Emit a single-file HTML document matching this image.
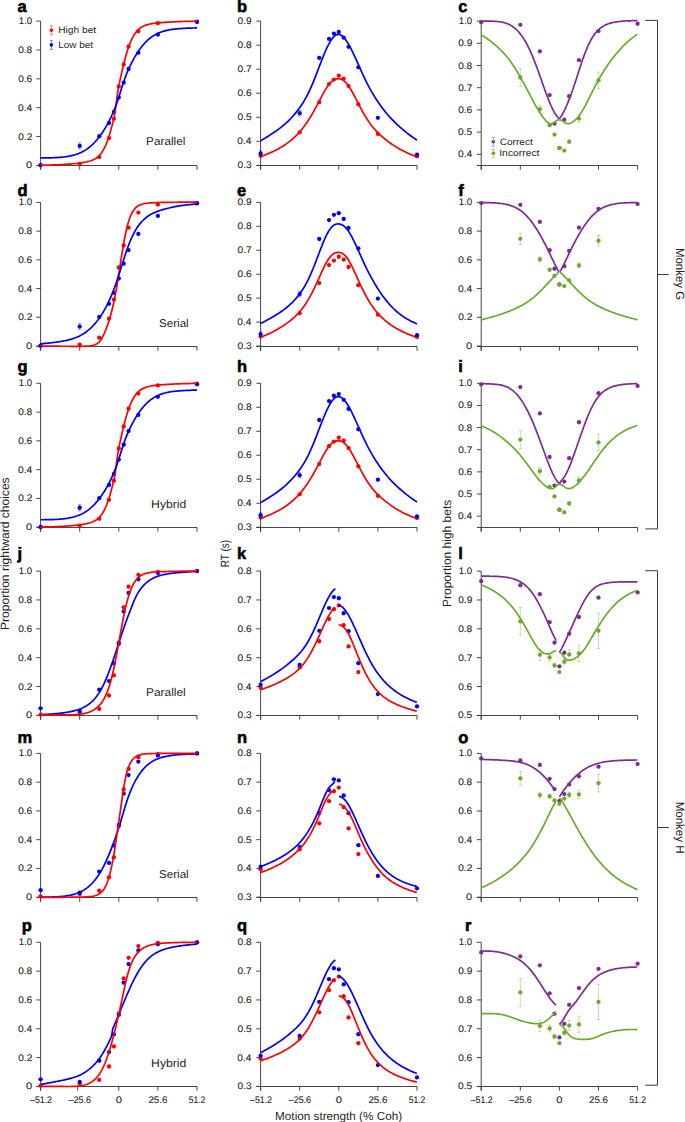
<!DOCTYPE html>
<html><head><meta charset="utf-8"><title>Figure</title>
<style>html,body{margin:0;padding:0;background:#fff;width:685px;height:1122px;overflow:hidden}svg{display:block;font-family:"Liberation Sans",sans-serif}</style>
</head><body>
<svg width="685" height="1122" viewBox="0 0 685 1122" text-rendering="geometricPrecision" fill="#231f20">
<rect width="685" height="1122" fill="#fff"/>
<style>.t{stroke:#231f20;stroke-width:0.1px}</style>
<path d="M40.6 21.1 V169.7" stroke="#3c3c3c" stroke-width="0.95" fill="none"/>
<path d="M36.3 165.5 H197" stroke="#3c3c3c" stroke-width="0.95" fill="none"/>
<path d="M36.3 165.4H40.6M36.3 136.54H40.6M36.3 107.68H40.6M36.3 78.82H40.6M36.3 49.96H40.6M36.3 21.1H40.6M40.6 165.5V169.7M79.7 165.5V169.7M118.8 165.5V169.7M157.9 165.5V169.7M197 165.5V169.7" stroke="#3c3c3c" stroke-width="0.95" fill="none"/>
<text x="26.13" y="168.4" font-size="9.6" text-anchor="start" font-weight="normal" textLength="6.14" lengthAdjust="spacingAndGlyphs" class="t">0</text>
<text x="18.21" y="139.54" font-size="9.6" text-anchor="start" font-weight="normal" textLength="14.15" lengthAdjust="spacingAndGlyphs" class="t">0.2</text>
<text x="17.99" y="110.68" font-size="9.6" text-anchor="start" font-weight="normal" textLength="14.15" lengthAdjust="spacingAndGlyphs" class="t">0.4</text>
<text x="18.15" y="81.82" font-size="9.6" text-anchor="start" font-weight="normal" textLength="14.15" lengthAdjust="spacingAndGlyphs" class="t">0.6</text>
<text x="18.15" y="52.96" font-size="9.6" text-anchor="start" font-weight="normal" textLength="14.15" lengthAdjust="spacingAndGlyphs" class="t">0.8</text>
<text x="18.87" y="24.1" font-size="9.6" text-anchor="start" font-weight="normal" textLength="13.35" lengthAdjust="spacingAndGlyphs" class="t">1.0</text>
<path d="M260.6 21.1 V169.7" stroke="#3c3c3c" stroke-width="0.95" fill="none"/>
<path d="M256.3 165.5 H417" stroke="#3c3c3c" stroke-width="0.95" fill="none"/>
<path d="M256.3 165.4H260.6M256.3 141.35H260.6M256.3 117.3H260.6M256.3 93.25H260.6M256.3 69.2H260.6M256.3 45.15H260.6M256.3 21.1H260.6M260.6 165.5V169.7M299.7 165.5V169.7M338.8 165.5V169.7M377.9 165.5V169.7M417 165.5V169.7" stroke="#3c3c3c" stroke-width="0.95" fill="none"/>
<text x="237.55" y="168.4" font-size="9.6" text-anchor="start" font-weight="normal" textLength="14.15" lengthAdjust="spacingAndGlyphs" class="t">0.3</text>
<text x="237.39" y="144.35" font-size="9.6" text-anchor="start" font-weight="normal" textLength="14.15" lengthAdjust="spacingAndGlyphs" class="t">0.4</text>
<text x="237.53" y="120.3" font-size="9.6" text-anchor="start" font-weight="normal" textLength="14.15" lengthAdjust="spacingAndGlyphs" class="t">0.5</text>
<text x="237.55" y="96.25" font-size="9.6" text-anchor="start" font-weight="normal" textLength="14.15" lengthAdjust="spacingAndGlyphs" class="t">0.6</text>
<text x="237.61" y="72.2" font-size="9.6" text-anchor="start" font-weight="normal" textLength="14.15" lengthAdjust="spacingAndGlyphs" class="t">0.7</text>
<text x="237.55" y="48.15" font-size="9.6" text-anchor="start" font-weight="normal" textLength="14.15" lengthAdjust="spacingAndGlyphs" class="t">0.8</text>
<text x="237.59" y="24.1" font-size="9.6" text-anchor="start" font-weight="normal" textLength="14.15" lengthAdjust="spacingAndGlyphs" class="t">0.9</text>
<path d="M481.2 21.1 V169.7" stroke="#3c3c3c" stroke-width="0.95" fill="none"/>
<path d="M476.9 165.5 H637.6" stroke="#3c3c3c" stroke-width="0.95" fill="none"/>
<path d="M476.9 154.3H481.2M476.9 132.1H481.2M476.9 109.9H481.2M476.9 87.7H481.2M476.9 65.5H481.2M476.9 43.3H481.2M476.9 21.1H481.2M481.2 165.5V169.7M520.3 165.5V169.7M559.4 165.5V169.7M598.5 165.5V169.7M637.6 165.5V169.7" stroke="#3c3c3c" stroke-width="0.95" fill="none"/>
<text x="457.99" y="157.3" font-size="9.6" text-anchor="start" font-weight="normal" textLength="14.15" lengthAdjust="spacingAndGlyphs" class="t">0.4</text>
<text x="458.13" y="135.1" font-size="9.6" text-anchor="start" font-weight="normal" textLength="14.15" lengthAdjust="spacingAndGlyphs" class="t">0.5</text>
<text x="458.15" y="112.9" font-size="9.6" text-anchor="start" font-weight="normal" textLength="14.15" lengthAdjust="spacingAndGlyphs" class="t">0.6</text>
<text x="458.21" y="90.7" font-size="9.6" text-anchor="start" font-weight="normal" textLength="14.15" lengthAdjust="spacingAndGlyphs" class="t">0.7</text>
<text x="458.15" y="68.5" font-size="9.6" text-anchor="start" font-weight="normal" textLength="14.15" lengthAdjust="spacingAndGlyphs" class="t">0.8</text>
<text x="458.19" y="46.3" font-size="9.6" text-anchor="start" font-weight="normal" textLength="14.15" lengthAdjust="spacingAndGlyphs" class="t">0.9</text>
<text x="458.87" y="24.1" font-size="9.6" text-anchor="start" font-weight="normal" textLength="13.35" lengthAdjust="spacingAndGlyphs" class="t">1.0</text>
<path d="M40.6 202.4 V350.7" stroke="#3c3c3c" stroke-width="0.95" fill="none"/>
<path d="M36.3 346.5 H197" stroke="#3c3c3c" stroke-width="0.95" fill="none"/>
<path d="M36.3 346H40.6M36.3 317.28H40.6M36.3 288.56H40.6M36.3 259.84H40.6M36.3 231.12H40.6M36.3 202.4H40.6M40.6 346.5V350.7M79.7 346.5V350.7M118.8 346.5V350.7M157.9 346.5V350.7M197 346.5V350.7" stroke="#3c3c3c" stroke-width="0.95" fill="none"/>
<text x="26.13" y="349" font-size="9.6" text-anchor="start" font-weight="normal" textLength="6.14" lengthAdjust="spacingAndGlyphs" class="t">0</text>
<text x="18.21" y="320.28" font-size="9.6" text-anchor="start" font-weight="normal" textLength="14.15" lengthAdjust="spacingAndGlyphs" class="t">0.2</text>
<text x="17.99" y="291.56" font-size="9.6" text-anchor="start" font-weight="normal" textLength="14.15" lengthAdjust="spacingAndGlyphs" class="t">0.4</text>
<text x="18.15" y="262.84" font-size="9.6" text-anchor="start" font-weight="normal" textLength="14.15" lengthAdjust="spacingAndGlyphs" class="t">0.6</text>
<text x="18.15" y="234.12" font-size="9.6" text-anchor="start" font-weight="normal" textLength="14.15" lengthAdjust="spacingAndGlyphs" class="t">0.8</text>
<text x="18.87" y="205.4" font-size="9.6" text-anchor="start" font-weight="normal" textLength="13.35" lengthAdjust="spacingAndGlyphs" class="t">1.0</text>
<path d="M260.6 202.4 V350.7" stroke="#3c3c3c" stroke-width="0.95" fill="none"/>
<path d="M256.3 346.5 H417" stroke="#3c3c3c" stroke-width="0.95" fill="none"/>
<path d="M256.3 346H260.6M256.3 322.07H260.6M256.3 298.13H260.6M256.3 274.2H260.6M256.3 250.27H260.6M256.3 226.33H260.6M256.3 202.4H260.6M260.6 346.5V350.7M299.7 346.5V350.7M338.8 346.5V350.7M377.9 346.5V350.7M417 346.5V350.7" stroke="#3c3c3c" stroke-width="0.95" fill="none"/>
<text x="237.55" y="349" font-size="9.6" text-anchor="start" font-weight="normal" textLength="14.15" lengthAdjust="spacingAndGlyphs" class="t">0.3</text>
<text x="237.39" y="325.07" font-size="9.6" text-anchor="start" font-weight="normal" textLength="14.15" lengthAdjust="spacingAndGlyphs" class="t">0.4</text>
<text x="237.53" y="301.13" font-size="9.6" text-anchor="start" font-weight="normal" textLength="14.15" lengthAdjust="spacingAndGlyphs" class="t">0.5</text>
<text x="237.55" y="277.2" font-size="9.6" text-anchor="start" font-weight="normal" textLength="14.15" lengthAdjust="spacingAndGlyphs" class="t">0.6</text>
<text x="237.61" y="253.27" font-size="9.6" text-anchor="start" font-weight="normal" textLength="14.15" lengthAdjust="spacingAndGlyphs" class="t">0.7</text>
<text x="237.55" y="229.33" font-size="9.6" text-anchor="start" font-weight="normal" textLength="14.15" lengthAdjust="spacingAndGlyphs" class="t">0.8</text>
<text x="237.59" y="205.4" font-size="9.6" text-anchor="start" font-weight="normal" textLength="14.15" lengthAdjust="spacingAndGlyphs" class="t">0.9</text>
<path d="M481.2 202.4 V350.7" stroke="#3c3c3c" stroke-width="0.95" fill="none"/>
<path d="M476.9 346.5 H637.6" stroke="#3c3c3c" stroke-width="0.95" fill="none"/>
<path d="M476.9 346H481.2M476.9 317.28H481.2M476.9 288.56H481.2M476.9 259.84H481.2M476.9 231.12H481.2M476.9 202.4H481.2M481.2 346.5V350.7M520.3 346.5V350.7M559.4 346.5V350.7M598.5 346.5V350.7M637.6 346.5V350.7" stroke="#3c3c3c" stroke-width="0.95" fill="none"/>
<text x="466.13" y="349" font-size="9.6" text-anchor="start" font-weight="normal" textLength="6.14" lengthAdjust="spacingAndGlyphs" class="t">0</text>
<text x="458.21" y="320.28" font-size="9.6" text-anchor="start" font-weight="normal" textLength="14.15" lengthAdjust="spacingAndGlyphs" class="t">0.2</text>
<text x="457.99" y="291.56" font-size="9.6" text-anchor="start" font-weight="normal" textLength="14.15" lengthAdjust="spacingAndGlyphs" class="t">0.4</text>
<text x="458.15" y="262.84" font-size="9.6" text-anchor="start" font-weight="normal" textLength="14.15" lengthAdjust="spacingAndGlyphs" class="t">0.6</text>
<text x="458.15" y="234.12" font-size="9.6" text-anchor="start" font-weight="normal" textLength="14.15" lengthAdjust="spacingAndGlyphs" class="t">0.8</text>
<text x="458.87" y="205.4" font-size="9.6" text-anchor="start" font-weight="normal" textLength="13.35" lengthAdjust="spacingAndGlyphs" class="t">1.0</text>
<path d="M40.6 383.3 V531.7" stroke="#3c3c3c" stroke-width="0.95" fill="none"/>
<path d="M36.3 527.5 H197" stroke="#3c3c3c" stroke-width="0.95" fill="none"/>
<path d="M36.3 527.2H40.6M36.3 498.42H40.6M36.3 469.64H40.6M36.3 440.86H40.6M36.3 412.08H40.6M36.3 383.3H40.6M40.6 527.5V531.7M79.7 527.5V531.7M118.8 527.5V531.7M157.9 527.5V531.7M197 527.5V531.7" stroke="#3c3c3c" stroke-width="0.95" fill="none"/>
<text x="26.13" y="530.2" font-size="9.6" text-anchor="start" font-weight="normal" textLength="6.14" lengthAdjust="spacingAndGlyphs" class="t">0</text>
<text x="18.21" y="501.42" font-size="9.6" text-anchor="start" font-weight="normal" textLength="14.15" lengthAdjust="spacingAndGlyphs" class="t">0.2</text>
<text x="17.99" y="472.64" font-size="9.6" text-anchor="start" font-weight="normal" textLength="14.15" lengthAdjust="spacingAndGlyphs" class="t">0.4</text>
<text x="18.15" y="443.86" font-size="9.6" text-anchor="start" font-weight="normal" textLength="14.15" lengthAdjust="spacingAndGlyphs" class="t">0.6</text>
<text x="18.15" y="415.08" font-size="9.6" text-anchor="start" font-weight="normal" textLength="14.15" lengthAdjust="spacingAndGlyphs" class="t">0.8</text>
<text x="18.87" y="386.3" font-size="9.6" text-anchor="start" font-weight="normal" textLength="13.35" lengthAdjust="spacingAndGlyphs" class="t">1.0</text>
<path d="M260.6 383.3 V531.7" stroke="#3c3c3c" stroke-width="0.95" fill="none"/>
<path d="M256.3 527.5 H417" stroke="#3c3c3c" stroke-width="0.95" fill="none"/>
<path d="M256.3 527.2H260.6M256.3 503.22H260.6M256.3 479.23H260.6M256.3 455.25H260.6M256.3 431.27H260.6M256.3 407.28H260.6M256.3 383.3H260.6M260.6 527.5V531.7M299.7 527.5V531.7M338.8 527.5V531.7M377.9 527.5V531.7M417 527.5V531.7" stroke="#3c3c3c" stroke-width="0.95" fill="none"/>
<text x="237.55" y="530.2" font-size="9.6" text-anchor="start" font-weight="normal" textLength="14.15" lengthAdjust="spacingAndGlyphs" class="t">0.3</text>
<text x="237.39" y="506.22" font-size="9.6" text-anchor="start" font-weight="normal" textLength="14.15" lengthAdjust="spacingAndGlyphs" class="t">0.4</text>
<text x="237.53" y="482.23" font-size="9.6" text-anchor="start" font-weight="normal" textLength="14.15" lengthAdjust="spacingAndGlyphs" class="t">0.5</text>
<text x="237.55" y="458.25" font-size="9.6" text-anchor="start" font-weight="normal" textLength="14.15" lengthAdjust="spacingAndGlyphs" class="t">0.6</text>
<text x="237.61" y="434.27" font-size="9.6" text-anchor="start" font-weight="normal" textLength="14.15" lengthAdjust="spacingAndGlyphs" class="t">0.7</text>
<text x="237.55" y="410.28" font-size="9.6" text-anchor="start" font-weight="normal" textLength="14.15" lengthAdjust="spacingAndGlyphs" class="t">0.8</text>
<text x="237.59" y="386.3" font-size="9.6" text-anchor="start" font-weight="normal" textLength="14.15" lengthAdjust="spacingAndGlyphs" class="t">0.9</text>
<path d="M481.2 383.3 V531.7" stroke="#3c3c3c" stroke-width="0.95" fill="none"/>
<path d="M476.9 527.5 H637.6" stroke="#3c3c3c" stroke-width="0.95" fill="none"/>
<path d="M476.9 516.13H481.2M476.9 493.99H481.2M476.9 471.85H481.2M476.9 449.72H481.2M476.9 427.58H481.2M476.9 405.44H481.2M476.9 383.3H481.2M481.2 527.5V531.7M520.3 527.5V531.7M559.4 527.5V531.7M598.5 527.5V531.7M637.6 527.5V531.7" stroke="#3c3c3c" stroke-width="0.95" fill="none"/>
<text x="457.99" y="519.13" font-size="9.6" text-anchor="start" font-weight="normal" textLength="14.15" lengthAdjust="spacingAndGlyphs" class="t">0.4</text>
<text x="458.13" y="496.99" font-size="9.6" text-anchor="start" font-weight="normal" textLength="14.15" lengthAdjust="spacingAndGlyphs" class="t">0.5</text>
<text x="458.15" y="474.85" font-size="9.6" text-anchor="start" font-weight="normal" textLength="14.15" lengthAdjust="spacingAndGlyphs" class="t">0.6</text>
<text x="458.21" y="452.72" font-size="9.6" text-anchor="start" font-weight="normal" textLength="14.15" lengthAdjust="spacingAndGlyphs" class="t">0.7</text>
<text x="458.15" y="430.58" font-size="9.6" text-anchor="start" font-weight="normal" textLength="14.15" lengthAdjust="spacingAndGlyphs" class="t">0.8</text>
<text x="458.19" y="408.44" font-size="9.6" text-anchor="start" font-weight="normal" textLength="14.15" lengthAdjust="spacingAndGlyphs" class="t">0.9</text>
<text x="458.87" y="386.3" font-size="9.6" text-anchor="start" font-weight="normal" textLength="13.35" lengthAdjust="spacingAndGlyphs" class="t">1.0</text>
<path d="M40.6 571.1 V719.7" stroke="#3c3c3c" stroke-width="0.95" fill="none"/>
<path d="M36.3 715.5 H197" stroke="#3c3c3c" stroke-width="0.95" fill="none"/>
<path d="M36.3 715.4H40.6M36.3 686.54H40.6M36.3 657.68H40.6M36.3 628.82H40.6M36.3 599.96H40.6M36.3 571.1H40.6M40.6 715.5V719.7M79.7 715.5V719.7M118.8 715.5V719.7M157.9 715.5V719.7M197 715.5V719.7" stroke="#3c3c3c" stroke-width="0.95" fill="none"/>
<text x="26.13" y="718.4" font-size="9.6" text-anchor="start" font-weight="normal" textLength="6.14" lengthAdjust="spacingAndGlyphs" class="t">0</text>
<text x="18.21" y="689.54" font-size="9.6" text-anchor="start" font-weight="normal" textLength="14.15" lengthAdjust="spacingAndGlyphs" class="t">0.2</text>
<text x="17.99" y="660.68" font-size="9.6" text-anchor="start" font-weight="normal" textLength="14.15" lengthAdjust="spacingAndGlyphs" class="t">0.4</text>
<text x="18.15" y="631.82" font-size="9.6" text-anchor="start" font-weight="normal" textLength="14.15" lengthAdjust="spacingAndGlyphs" class="t">0.6</text>
<text x="18.15" y="602.96" font-size="9.6" text-anchor="start" font-weight="normal" textLength="14.15" lengthAdjust="spacingAndGlyphs" class="t">0.8</text>
<text x="18.87" y="574.1" font-size="9.6" text-anchor="start" font-weight="normal" textLength="13.35" lengthAdjust="spacingAndGlyphs" class="t">1.0</text>
<path d="M260.6 571.1 V719.7" stroke="#3c3c3c" stroke-width="0.95" fill="none"/>
<path d="M256.3 715.5 H417" stroke="#3c3c3c" stroke-width="0.95" fill="none"/>
<path d="M256.3 715.4H260.6M256.3 686.54H260.6M256.3 657.68H260.6M256.3 628.82H260.6M256.3 599.96H260.6M256.3 571.1H260.6M260.6 715.5V719.7M299.7 715.5V719.7M338.8 715.5V719.7M377.9 715.5V719.7M417 715.5V719.7" stroke="#3c3c3c" stroke-width="0.95" fill="none"/>
<text x="237.55" y="718.4" font-size="9.6" text-anchor="start" font-weight="normal" textLength="14.15" lengthAdjust="spacingAndGlyphs" class="t">0.3</text>
<text x="237.39" y="689.54" font-size="9.6" text-anchor="start" font-weight="normal" textLength="14.15" lengthAdjust="spacingAndGlyphs" class="t">0.4</text>
<text x="237.53" y="660.68" font-size="9.6" text-anchor="start" font-weight="normal" textLength="14.15" lengthAdjust="spacingAndGlyphs" class="t">0.5</text>
<text x="237.55" y="631.82" font-size="9.6" text-anchor="start" font-weight="normal" textLength="14.15" lengthAdjust="spacingAndGlyphs" class="t">0.6</text>
<text x="237.61" y="602.96" font-size="9.6" text-anchor="start" font-weight="normal" textLength="14.15" lengthAdjust="spacingAndGlyphs" class="t">0.7</text>
<text x="237.55" y="574.1" font-size="9.6" text-anchor="start" font-weight="normal" textLength="14.15" lengthAdjust="spacingAndGlyphs" class="t">0.8</text>
<path d="M481.2 571.1 V719.7" stroke="#3c3c3c" stroke-width="0.95" fill="none"/>
<path d="M476.9 715.5 H637.6" stroke="#3c3c3c" stroke-width="0.95" fill="none"/>
<path d="M476.9 715.4H481.2M476.9 686.54H481.2M476.9 657.68H481.2M476.9 628.82H481.2M476.9 599.96H481.2M476.9 571.1H481.2M481.2 715.5V719.7M520.3 715.5V719.7M559.4 715.5V719.7M598.5 715.5V719.7M637.6 715.5V719.7" stroke="#3c3c3c" stroke-width="0.95" fill="none"/>
<text x="458.13" y="718.4" font-size="9.6" text-anchor="start" font-weight="normal" textLength="14.15" lengthAdjust="spacingAndGlyphs" class="t">0.5</text>
<text x="458.15" y="689.54" font-size="9.6" text-anchor="start" font-weight="normal" textLength="14.15" lengthAdjust="spacingAndGlyphs" class="t">0.6</text>
<text x="458.21" y="660.68" font-size="9.6" text-anchor="start" font-weight="normal" textLength="14.15" lengthAdjust="spacingAndGlyphs" class="t">0.7</text>
<text x="458.15" y="631.82" font-size="9.6" text-anchor="start" font-weight="normal" textLength="14.15" lengthAdjust="spacingAndGlyphs" class="t">0.8</text>
<text x="458.19" y="602.96" font-size="9.6" text-anchor="start" font-weight="normal" textLength="14.15" lengthAdjust="spacingAndGlyphs" class="t">0.9</text>
<text x="458.87" y="574.1" font-size="9.6" text-anchor="start" font-weight="normal" textLength="13.35" lengthAdjust="spacingAndGlyphs" class="t">1.0</text>
<path d="M40.6 753.4 V901.7" stroke="#3c3c3c" stroke-width="0.95" fill="none"/>
<path d="M36.3 897.5 H197" stroke="#3c3c3c" stroke-width="0.95" fill="none"/>
<path d="M36.3 897.2H40.6M36.3 868.44H40.6M36.3 839.68H40.6M36.3 810.92H40.6M36.3 782.16H40.6M36.3 753.4H40.6M40.6 897.5V901.7M79.7 897.5V901.7M118.8 897.5V901.7M157.9 897.5V901.7M197 897.5V901.7" stroke="#3c3c3c" stroke-width="0.95" fill="none"/>
<text x="26.13" y="900.2" font-size="9.6" text-anchor="start" font-weight="normal" textLength="6.14" lengthAdjust="spacingAndGlyphs" class="t">0</text>
<text x="18.21" y="871.44" font-size="9.6" text-anchor="start" font-weight="normal" textLength="14.15" lengthAdjust="spacingAndGlyphs" class="t">0.2</text>
<text x="17.99" y="842.68" font-size="9.6" text-anchor="start" font-weight="normal" textLength="14.15" lengthAdjust="spacingAndGlyphs" class="t">0.4</text>
<text x="18.15" y="813.92" font-size="9.6" text-anchor="start" font-weight="normal" textLength="14.15" lengthAdjust="spacingAndGlyphs" class="t">0.6</text>
<text x="18.15" y="785.16" font-size="9.6" text-anchor="start" font-weight="normal" textLength="14.15" lengthAdjust="spacingAndGlyphs" class="t">0.8</text>
<text x="18.87" y="756.4" font-size="9.6" text-anchor="start" font-weight="normal" textLength="13.35" lengthAdjust="spacingAndGlyphs" class="t">1.0</text>
<path d="M260.6 753.4 V901.7" stroke="#3c3c3c" stroke-width="0.95" fill="none"/>
<path d="M256.3 897.5 H417" stroke="#3c3c3c" stroke-width="0.95" fill="none"/>
<path d="M256.3 897.2H260.6M256.3 868.44H260.6M256.3 839.68H260.6M256.3 810.92H260.6M256.3 782.16H260.6M256.3 753.4H260.6M260.6 897.5V901.7M299.7 897.5V901.7M338.8 897.5V901.7M377.9 897.5V901.7M417 897.5V901.7" stroke="#3c3c3c" stroke-width="0.95" fill="none"/>
<text x="237.55" y="900.2" font-size="9.6" text-anchor="start" font-weight="normal" textLength="14.15" lengthAdjust="spacingAndGlyphs" class="t">0.3</text>
<text x="237.39" y="871.44" font-size="9.6" text-anchor="start" font-weight="normal" textLength="14.15" lengthAdjust="spacingAndGlyphs" class="t">0.4</text>
<text x="237.53" y="842.68" font-size="9.6" text-anchor="start" font-weight="normal" textLength="14.15" lengthAdjust="spacingAndGlyphs" class="t">0.5</text>
<text x="237.55" y="813.92" font-size="9.6" text-anchor="start" font-weight="normal" textLength="14.15" lengthAdjust="spacingAndGlyphs" class="t">0.6</text>
<text x="237.61" y="785.16" font-size="9.6" text-anchor="start" font-weight="normal" textLength="14.15" lengthAdjust="spacingAndGlyphs" class="t">0.7</text>
<text x="237.55" y="756.4" font-size="9.6" text-anchor="start" font-weight="normal" textLength="14.15" lengthAdjust="spacingAndGlyphs" class="t">0.8</text>
<path d="M481.2 753.4 V901.7" stroke="#3c3c3c" stroke-width="0.95" fill="none"/>
<path d="M476.9 897.5 H637.6" stroke="#3c3c3c" stroke-width="0.95" fill="none"/>
<path d="M476.9 897.2H481.2M476.9 868.44H481.2M476.9 839.68H481.2M476.9 810.92H481.2M476.9 782.16H481.2M476.9 753.4H481.2M481.2 897.5V901.7M520.3 897.5V901.7M559.4 897.5V901.7M598.5 897.5V901.7M637.6 897.5V901.7" stroke="#3c3c3c" stroke-width="0.95" fill="none"/>
<text x="466.13" y="900.2" font-size="9.6" text-anchor="start" font-weight="normal" textLength="6.14" lengthAdjust="spacingAndGlyphs" class="t">0</text>
<text x="458.21" y="871.44" font-size="9.6" text-anchor="start" font-weight="normal" textLength="14.15" lengthAdjust="spacingAndGlyphs" class="t">0.2</text>
<text x="457.99" y="842.68" font-size="9.6" text-anchor="start" font-weight="normal" textLength="14.15" lengthAdjust="spacingAndGlyphs" class="t">0.4</text>
<text x="458.15" y="813.92" font-size="9.6" text-anchor="start" font-weight="normal" textLength="14.15" lengthAdjust="spacingAndGlyphs" class="t">0.6</text>
<text x="458.15" y="785.16" font-size="9.6" text-anchor="start" font-weight="normal" textLength="14.15" lengthAdjust="spacingAndGlyphs" class="t">0.8</text>
<text x="458.87" y="756.4" font-size="9.6" text-anchor="start" font-weight="normal" textLength="13.35" lengthAdjust="spacingAndGlyphs" class="t">1.0</text>
<path d="M40.6 942.3 V1090.7" stroke="#3c3c3c" stroke-width="0.95" fill="none"/>
<path d="M36.3 1086.5 H197" stroke="#3c3c3c" stroke-width="0.95" fill="none"/>
<path d="M36.3 1086.4H40.6M36.3 1057.58H40.6M36.3 1028.76H40.6M36.3 999.94H40.6M36.3 971.12H40.6M36.3 942.3H40.6M40.6 1086.5V1090.7M77.7 1086.5V1090.7M118.8 1086.5V1090.7M157.9 1086.5V1090.7M197 1086.5V1090.7" stroke="#3c3c3c" stroke-width="0.95" fill="none"/>
<text x="26.13" y="1089.4" font-size="9.6" text-anchor="start" font-weight="normal" textLength="6.14" lengthAdjust="spacingAndGlyphs" class="t">0</text>
<text x="18.21" y="1060.58" font-size="9.6" text-anchor="start" font-weight="normal" textLength="14.15" lengthAdjust="spacingAndGlyphs" class="t">0.2</text>
<text x="17.99" y="1031.76" font-size="9.6" text-anchor="start" font-weight="normal" textLength="14.15" lengthAdjust="spacingAndGlyphs" class="t">0.4</text>
<text x="18.15" y="1002.94" font-size="9.6" text-anchor="start" font-weight="normal" textLength="14.15" lengthAdjust="spacingAndGlyphs" class="t">0.6</text>
<text x="18.15" y="974.12" font-size="9.6" text-anchor="start" font-weight="normal" textLength="14.15" lengthAdjust="spacingAndGlyphs" class="t">0.8</text>
<text x="18.87" y="945.3" font-size="9.6" text-anchor="start" font-weight="normal" textLength="13.35" lengthAdjust="spacingAndGlyphs" class="t">1.0</text>
<text x="30.05" y="1102.9" font-size="9.6" text-anchor="start" font-weight="normal" textLength="21.94" lengthAdjust="spacingAndGlyphs" class="t">–51.2</text>
<text x="68.6" y="1102.9" font-size="9.6" text-anchor="start" font-weight="normal" textLength="22.4" lengthAdjust="spacingAndGlyphs" class="t">–25.6</text>
<text x="115.67" y="1102.9" font-size="9.6" text-anchor="start" font-weight="normal" textLength="6.26" lengthAdjust="spacingAndGlyphs" class="t">0</text>
<text x="148.41" y="1102.9" font-size="9.6" text-anchor="start" font-weight="normal" textLength="18.92" lengthAdjust="spacingAndGlyphs" class="t">25.6</text>
<text x="188.71" y="1102.9" font-size="9.6" text-anchor="start" font-weight="normal" textLength="16.67" lengthAdjust="spacingAndGlyphs" class="t">51.2</text>
<path d="M260.6 942.3 V1090.7" stroke="#3c3c3c" stroke-width="0.95" fill="none"/>
<path d="M256.3 1086.5 H417" stroke="#3c3c3c" stroke-width="0.95" fill="none"/>
<path d="M256.3 1086.4H260.6M256.3 1057.58H260.6M256.3 1028.76H260.6M256.3 999.94H260.6M256.3 971.12H260.6M256.3 942.3H260.6M260.6 1086.5V1090.7M299.7 1086.5V1090.7M338.8 1086.5V1090.7M377.9 1086.5V1090.7M417 1086.5V1090.7" stroke="#3c3c3c" stroke-width="0.95" fill="none"/>
<text x="237.55" y="1089.4" font-size="9.6" text-anchor="start" font-weight="normal" textLength="14.15" lengthAdjust="spacingAndGlyphs" class="t">0.3</text>
<text x="237.39" y="1060.58" font-size="9.6" text-anchor="start" font-weight="normal" textLength="14.15" lengthAdjust="spacingAndGlyphs" class="t">0.4</text>
<text x="237.53" y="1031.76" font-size="9.6" text-anchor="start" font-weight="normal" textLength="14.15" lengthAdjust="spacingAndGlyphs" class="t">0.5</text>
<text x="237.55" y="1002.94" font-size="9.6" text-anchor="start" font-weight="normal" textLength="14.15" lengthAdjust="spacingAndGlyphs" class="t">0.6</text>
<text x="237.61" y="974.12" font-size="9.6" text-anchor="start" font-weight="normal" textLength="14.15" lengthAdjust="spacingAndGlyphs" class="t">0.7</text>
<text x="237.55" y="945.3" font-size="9.6" text-anchor="start" font-weight="normal" textLength="14.15" lengthAdjust="spacingAndGlyphs" class="t">0.8</text>
<text x="250.05" y="1102.9" font-size="9.6" text-anchor="start" font-weight="normal" textLength="21.94" lengthAdjust="spacingAndGlyphs" class="t">–51.2</text>
<text x="288.7" y="1102.9" font-size="9.6" text-anchor="start" font-weight="normal" textLength="22.4" lengthAdjust="spacingAndGlyphs" class="t">–25.6</text>
<text x="335.67" y="1102.9" font-size="9.6" text-anchor="start" font-weight="normal" textLength="6.26" lengthAdjust="spacingAndGlyphs" class="t">0</text>
<text x="368.41" y="1102.9" font-size="9.6" text-anchor="start" font-weight="normal" textLength="18.92" lengthAdjust="spacingAndGlyphs" class="t">25.6</text>
<text x="408.71" y="1102.9" font-size="9.6" text-anchor="start" font-weight="normal" textLength="16.67" lengthAdjust="spacingAndGlyphs" class="t">51.2</text>
<path d="M481.2 942.3 V1090.7" stroke="#3c3c3c" stroke-width="0.95" fill="none"/>
<path d="M476.9 1086.5 H637.6" stroke="#3c3c3c" stroke-width="0.95" fill="none"/>
<path d="M476.9 1086.4H481.2M476.9 1057.58H481.2M476.9 1028.76H481.2M476.9 999.94H481.2M476.9 971.12H481.2M476.9 942.3H481.2M481.2 1086.5V1090.7M520.3 1086.5V1090.7M559.4 1086.5V1090.7M598.5 1086.5V1090.7M637.6 1086.5V1090.7" stroke="#3c3c3c" stroke-width="0.95" fill="none"/>
<text x="458.13" y="1089.4" font-size="9.6" text-anchor="start" font-weight="normal" textLength="14.15" lengthAdjust="spacingAndGlyphs" class="t">0.5</text>
<text x="458.15" y="1060.58" font-size="9.6" text-anchor="start" font-weight="normal" textLength="14.15" lengthAdjust="spacingAndGlyphs" class="t">0.6</text>
<text x="458.21" y="1031.76" font-size="9.6" text-anchor="start" font-weight="normal" textLength="14.15" lengthAdjust="spacingAndGlyphs" class="t">0.7</text>
<text x="458.15" y="1002.94" font-size="9.6" text-anchor="start" font-weight="normal" textLength="14.15" lengthAdjust="spacingAndGlyphs" class="t">0.8</text>
<text x="458.19" y="974.12" font-size="9.6" text-anchor="start" font-weight="normal" textLength="14.15" lengthAdjust="spacingAndGlyphs" class="t">0.9</text>
<text x="458.87" y="945.3" font-size="9.6" text-anchor="start" font-weight="normal" textLength="13.35" lengthAdjust="spacingAndGlyphs" class="t">1.0</text>
<text x="470.65" y="1102.9" font-size="9.6" text-anchor="start" font-weight="normal" textLength="21.94" lengthAdjust="spacingAndGlyphs" class="t">–51.2</text>
<text x="509.3" y="1102.9" font-size="9.6" text-anchor="start" font-weight="normal" textLength="22.4" lengthAdjust="spacingAndGlyphs" class="t">–25.6</text>
<text x="556.27" y="1102.9" font-size="9.6" text-anchor="start" font-weight="normal" textLength="6.26" lengthAdjust="spacingAndGlyphs" class="t">0</text>
<text x="589.01" y="1102.9" font-size="9.6" text-anchor="start" font-weight="normal" textLength="18.92" lengthAdjust="spacingAndGlyphs" class="t">25.6</text>
<text x="629.31" y="1102.9" font-size="9.6" text-anchor="start" font-weight="normal" textLength="16.67" lengthAdjust="spacingAndGlyphs" class="t">51.2</text>
<text x="17.6" y="12.1" font-size="16.5" text-anchor="start" font-weight="bold" fill="#000" stroke="#000" stroke-width="0.55">a</text>
<text x="237" y="12.1" font-size="16.5" text-anchor="start" font-weight="bold" fill="#000" stroke="#000" stroke-width="0.55">b</text>
<text x="458.2" y="12.1" font-size="16.5" text-anchor="start" font-weight="bold" fill="#000" stroke="#000" stroke-width="0.55">c</text>
<text x="17.6" y="196" font-size="16.5" text-anchor="start" font-weight="bold" fill="#000" stroke="#000" stroke-width="0.55">d</text>
<text x="237" y="196" font-size="16.5" text-anchor="start" font-weight="bold" fill="#000" stroke="#000" stroke-width="0.55">e</text>
<text x="458.2" y="196" font-size="16.5" text-anchor="start" font-weight="bold" fill="#000" stroke="#000" stroke-width="0.55">f</text>
<text x="17.6" y="371.5" font-size="16.5" text-anchor="start" font-weight="bold" fill="#000" stroke="#000" stroke-width="0.55">g</text>
<text x="237" y="371.5" font-size="16.5" text-anchor="start" font-weight="bold" fill="#000" stroke="#000" stroke-width="0.55">h</text>
<text x="458.2" y="371.5" font-size="16.5" text-anchor="start" font-weight="bold" fill="#000" stroke="#000" stroke-width="0.55">i</text>
<text x="17.6" y="559.1" font-size="16.5" text-anchor="start" font-weight="bold" fill="#000" stroke="#000" stroke-width="0.55">j</text>
<text x="237" y="559.1" font-size="16.5" text-anchor="start" font-weight="bold" fill="#000" stroke="#000" stroke-width="0.55">k</text>
<text x="458.2" y="559.1" font-size="16.5" text-anchor="start" font-weight="bold" fill="#000" stroke="#000" stroke-width="0.55">l</text>
<text x="17.6" y="742.5" font-size="16.5" text-anchor="start" font-weight="bold" fill="#000" stroke="#000" stroke-width="0.55">m</text>
<text x="237" y="742.5" font-size="16.5" text-anchor="start" font-weight="bold" fill="#000" stroke="#000" stroke-width="0.55">n</text>
<text x="458.2" y="742.5" font-size="16.5" text-anchor="start" font-weight="bold" fill="#000" stroke="#000" stroke-width="0.55">o</text>
<text x="21.7" y="930.5" font-size="16.5" text-anchor="start" font-weight="bold" fill="#000" stroke="#000" stroke-width="0.55">p</text>
<text x="237" y="930.5" font-size="16.5" text-anchor="start" font-weight="bold" fill="#000" stroke="#000" stroke-width="0.55">q</text>
<text x="465" y="930.5" font-size="16.5" text-anchor="start" font-weight="bold" fill="#000" stroke="#000" stroke-width="0.55">r</text>
<text x="146.14" y="145.3" font-size="11.3" text-anchor="start" font-weight="normal" textLength="39.15" lengthAdjust="spacingAndGlyphs">Parallel</text>
<text x="159.07" y="327" font-size="11.3" text-anchor="start" font-weight="normal" textLength="29.6" lengthAdjust="spacingAndGlyphs">Serial</text>
<text x="151.1" y="507.8" font-size="11.3" text-anchor="start" font-weight="normal" textLength="35.28" lengthAdjust="spacingAndGlyphs">Hybrid</text>
<text x="146.02" y="695.8" font-size="11.3" text-anchor="start" font-weight="normal" textLength="39.67" lengthAdjust="spacingAndGlyphs">Parallel</text>
<text x="159.07" y="877.5" font-size="11.3" text-anchor="start" font-weight="normal" textLength="29.6" lengthAdjust="spacingAndGlyphs">Serial</text>
<text x="151.1" y="1067.1" font-size="11.3" text-anchor="start" font-weight="normal" textLength="35.28" lengthAdjust="spacingAndGlyphs">Hybrid</text>
<g fill="#ff0000"><circle cx="40.6" cy="165.4" r="2.15"/><circle cx="79.7" cy="163.96" r="2.15"/><circle cx="99.25" cy="157.03" r="2.15"/><circle cx="109.03" cy="137.98" r="2.15"/><circle cx="113.91" cy="118.79" r="2.15"/><circle cx="118.8" cy="86.47" r="2.15"/><circle cx="123.69" cy="64.39" r="2.15"/><circle cx="128.58" cy="46.5" r="2.15"/><circle cx="138.35" cy="31.35" r="2.15"/><circle cx="157.9" cy="23.26" r="2.15"/><circle cx="197" cy="21.53" r="2.15"/></g>
<path d="M79.7 142.74V149.09M78 142.74H81.4M78 149.09H81.4" stroke="#0000ff" stroke-width="0.9" stroke-opacity="0.42" fill="none"/>
<g fill="#0000ff"><circle cx="40.6" cy="165.11" r="2.15"/><circle cx="79.7" cy="145.92" r="2.15"/><circle cx="99.25" cy="136.25" r="2.15"/><circle cx="109.03" cy="122.98" r="2.15"/><circle cx="113.91" cy="112.01" r="2.15"/><circle cx="118.8" cy="97.58" r="2.15"/><circle cx="123.69" cy="82.72" r="2.15"/><circle cx="128.58" cy="69.01" r="2.15"/><circle cx="138.35" cy="52.85" r="2.15"/><circle cx="157.9" cy="34.66" r="2.15"/><circle cx="197" cy="22.11" r="2.15"/></g>
<path d="M40.6 165.25 41.6 165.23 42.61 165.21 43.61 165.19 44.61 165.17 45.61 165.15 46.62 165.13 47.62 165.1 48.62 165.08 49.62 165.06 50.63 165.03 51.63 165 52.63 164.97 53.63 164.94 54.64 164.91 55.64 164.87 56.64 164.83 57.64 164.79 58.65 164.74 59.65 164.69 60.65 164.64 61.65 164.59 62.66 164.53 63.66 164.46 64.66 164.4 65.66 164.33 66.67 164.26 67.67 164.18 68.67 164.11 69.67 164.03 70.68 163.94 71.68 163.86 72.68 163.77 73.68 163.67 74.69 163.58 75.69 163.47 76.69 163.37 77.69 163.25 78.7 163.13 79.7 163.01 80.7 162.87 81.71 162.73 82.71 162.57 83.71 162.4 84.71 162.22 85.72 162.03 86.72 161.81 87.72 161.58 88.72 161.33 89.73 161.05 90.73 160.73 91.73 160.38 92.73 159.99 93.74 159.54 94.74 159.02 95.74 158.43 96.74 157.75 97.75 156.96 98.75 156.06 99.75 155.02 100.75 153.83 101.76 152.47 102.76 150.94 103.76 149.2 104.76 147.25 105.77 145.06 106.77 142.64 107.77 139.96 108.77 137.02 109.78 133.81 110.78 130.35 111.78 126.63 112.78 122.65 113.79 118.36 114.79 113.43 115.79 106.9 116.79 98.7 117.8 91.67 118.8 86.24 119.8 81.38 120.81 76.72 121.81 72.2 122.81 67.84 123.81 63.66 124.82 59.7 125.82 55.98 126.82 52.51 127.82 49.31 128.83 46.36 129.83 43.68 130.83 41.24 131.83 39.05 132.84 37.09 133.84 35.34 134.84 33.78 135.84 32.4 136.85 31.19 137.85 30.11 138.85 29.17 139.85 28.34 140.86 27.62 141.86 26.98 142.86 26.43 143.86 25.94 144.87 25.51 145.87 25.14 146.87 24.81 147.87 24.52 148.88 24.26 149.88 24.04 150.88 23.83 151.88 23.65 152.89 23.49 153.89 23.35 154.89 23.22 155.89 23.1 156.9 22.99 157.9 22.89 158.9 22.8 159.91 22.71 160.91 22.63 161.91 22.55 162.91 22.48 163.92 22.41 164.92 22.34 165.92 22.28 166.92 22.22 167.93 22.16 168.93 22.1 169.93 22.05 170.93 21.99 171.94 21.94 172.94 21.89 173.94 21.84 174.94 21.8 175.95 21.75 176.95 21.71 177.95 21.66 178.95 21.63 179.96 21.59 180.96 21.55 181.96 21.52 182.96 21.49 183.97 21.46 184.97 21.43 185.97 21.4 186.97 21.38 187.98 21.35 188.98 21.33 189.98 21.31 190.98 21.29 191.99 21.27 192.99 21.25 193.99 21.23 194.99 21.21 196 21.19 197 21.17" fill="none" stroke="#ff0000" stroke-width="1.7" stroke-linejoin="round" stroke-linecap="butt"/>
<path d="M40.6 157.91 41.6 157.91 42.61 157.91 43.61 157.91 44.61 157.9 45.61 157.89 46.62 157.88 47.62 157.87 48.62 157.85 49.62 157.83 50.63 157.81 51.63 157.78 52.63 157.75 53.63 157.71 54.64 157.67 55.64 157.62 56.64 157.56 57.64 157.5 58.65 157.44 59.65 157.36 60.65 157.28 61.65 157.19 62.66 157.09 63.66 156.98 64.66 156.86 65.66 156.73 66.67 156.59 67.67 156.43 68.67 156.26 69.67 156.07 70.68 155.86 71.68 155.64 72.68 155.4 73.68 155.14 74.69 154.86 75.69 154.55 76.69 154.22 77.69 153.86 78.7 153.48 79.7 153.06 80.7 152.62 81.71 152.14 82.71 151.63 83.71 151.08 84.71 150.49 85.72 149.87 86.72 149.2 87.72 148.49 88.72 147.74 89.73 146.95 90.73 146.1 91.73 145.21 92.73 144.26 93.74 143.27 94.74 142.22 95.74 141.12 96.74 139.97 97.75 138.77 98.75 137.51 99.75 136.2 100.75 134.84 101.76 133.41 102.76 131.93 103.76 130.39 104.76 128.78 105.77 127.1 106.77 125.36 107.77 123.54 108.77 121.65 109.78 119.68 110.78 117.63 111.78 115.49 112.78 113.26 113.79 110.93 114.79 108.47 115.79 105.88 116.79 103.14 117.8 100.23 118.8 97.18 119.8 94 120.81 90.76 121.81 87.53 122.81 84.38 123.81 81.36 124.82 78.51 125.82 75.83 126.82 73.3 127.82 70.92 128.83 68.65 129.83 66.49 130.83 64.42 131.83 62.44 132.84 60.53 133.84 58.7 134.84 56.93 135.84 55.24 136.85 53.61 137.85 52.06 138.85 50.56 139.85 49.14 140.86 47.77 141.86 46.48 142.86 45.24 143.86 44.07 144.87 42.96 145.87 41.91 146.87 40.91 147.87 39.98 148.88 39.1 149.88 38.27 150.88 37.5 151.88 36.77 152.89 36.09 153.89 35.46 154.89 34.87 155.89 34.32 156.9 33.8 157.9 33.32 158.9 32.88 159.91 32.47 160.91 32.09 161.91 31.74 162.91 31.42 163.92 31.12 164.92 30.84 165.92 30.59 166.92 30.36 167.93 30.14 168.93 29.94 169.93 29.76 170.93 29.6 171.94 29.45 172.94 29.31 173.94 29.18 174.94 29.07 175.95 28.96 176.95 28.86 177.95 28.77 178.95 28.69 179.96 28.61 180.96 28.54 181.96 28.48 182.96 28.42 183.97 28.36 184.97 28.31 185.97 28.26 186.97 28.22 187.98 28.17 188.98 28.14 189.98 28.1 190.98 28.07 191.99 28.04 192.99 28.01 193.99 27.99 194.99 27.97 196 27.95 197 27.93" fill="none" stroke="#0000ff" stroke-width="1.7" stroke-linejoin="round" stroke-linecap="butt"/>
<g fill="#ff0000"><circle cx="40.6" cy="346" r="2.15"/><circle cx="79.7" cy="344.56" r="2.15"/><circle cx="99.25" cy="337.67" r="2.15"/><circle cx="109.03" cy="318.72" r="2.15"/><circle cx="113.91" cy="299.62" r="2.15"/><circle cx="118.8" cy="267.45" r="2.15"/><circle cx="123.69" cy="245.48" r="2.15"/><circle cx="128.58" cy="227.67" r="2.15"/><circle cx="138.35" cy="212.6" r="2.15"/><circle cx="157.9" cy="204.55" r="2.15"/><circle cx="197" cy="202.83" r="2.15"/></g>
<path d="M79.7 323.45V329.77M78 323.45H81.4M78 329.77H81.4" stroke="#0000ff" stroke-width="0.9" stroke-opacity="0.42" fill="none"/>
<g fill="#0000ff"><circle cx="40.6" cy="345.71" r="2.15"/><circle cx="79.7" cy="326.61" r="2.15"/><circle cx="99.25" cy="316.99" r="2.15"/><circle cx="109.03" cy="303.78" r="2.15"/><circle cx="113.91" cy="292.87" r="2.15"/><circle cx="118.8" cy="278.51" r="2.15"/><circle cx="123.69" cy="263.72" r="2.15"/><circle cx="128.58" cy="250.08" r="2.15"/><circle cx="138.35" cy="233.99" r="2.15"/><circle cx="157.9" cy="215.9" r="2.15"/><circle cx="197" cy="203.41" r="2.15"/></g>
<path d="M40.6 346.19 41.6 346.19 42.61 346.19 43.61 346.19 44.61 346.19 45.61 346.19 46.62 346.19 47.62 346.2 48.62 346.2 49.62 346.2 50.63 346.2 51.63 346.2 52.63 346.2 53.63 346.2 54.64 346.21 55.64 346.21 56.64 346.21 57.64 346.22 58.65 346.22 59.65 346.22 60.65 346.23 61.65 346.24 62.66 346.24 63.66 346.25 64.66 346.25 65.66 346.26 66.67 346.27 67.67 346.27 68.67 346.28 69.67 346.28 70.68 346.29 71.68 346.29 72.68 346.3 73.68 346.3 74.69 346.31 75.69 346.31 76.69 346.31 77.69 346.31 78.7 346.3 79.7 346.3 80.7 346.29 81.71 346.28 82.71 346.26 83.71 346.24 84.71 346.21 85.72 346.18 86.72 346.13 87.72 346.07 88.72 345.99 89.73 345.9 90.73 345.77 91.73 345.61 92.73 345.4 93.74 345.14 94.74 344.81 95.74 344.39 96.74 343.85 97.75 343.18 98.75 342.33 99.75 341.29 100.75 340.01 101.76 338.48 102.76 336.7 103.76 334.66 104.76 332.4 105.77 329.93 106.77 327.28 107.77 324.46 108.77 321.47 109.78 318.27 110.78 314.83 111.78 311.09 112.78 307 113.79 302.51 114.79 297.59 115.79 292.24 116.79 286.48 117.8 280.38 118.8 274.02 119.8 267.51 120.81 260.98 121.81 254.58 122.81 248.41 123.81 242.6 124.82 237.23 125.82 232.35 126.82 227.97 127.82 224.11 128.83 220.74 129.83 217.83 130.83 215.33 131.83 213.22 132.84 211.43 133.84 209.93 134.84 208.68 135.84 207.64 136.85 206.78 137.85 206.06 138.85 205.47 139.85 204.98 140.86 204.57 141.86 204.24 142.86 203.96 143.86 203.73 144.87 203.53 145.87 203.37 146.87 203.23 147.87 203.12 148.88 203.02 149.88 202.93 150.88 202.86 151.88 202.8 152.89 202.74 153.89 202.69 154.89 202.65 155.89 202.61 156.9 202.57 157.9 202.54 158.9 202.51 159.91 202.49 160.91 202.47 161.91 202.44 162.91 202.42 163.92 202.4 164.92 202.39 165.92 202.37 166.92 202.35 167.93 202.34 168.93 202.32 169.93 202.31 170.93 202.3 171.94 202.28 172.94 202.27 173.94 202.26 174.94 202.25 175.95 202.24 176.95 202.23 177.95 202.22 178.95 202.21 179.96 202.2 180.96 202.2 181.96 202.19 182.96 202.18 183.97 202.17 184.97 202.17 185.97 202.16 186.97 202.15 187.98 202.15 188.98 202.14 189.98 202.13 190.98 202.13 191.99 202.12 192.99 202.12 193.99 202.11 194.99 202.1 196 202.1 197 202.09" fill="none" stroke="#ff0000" stroke-width="1.7" stroke-linejoin="round" stroke-linecap="butt"/>
<path d="M40.6 343.83 41.6 343.75 42.61 343.66 43.61 343.57 44.61 343.47 45.61 343.38 46.62 343.28 47.62 343.17 48.62 343.06 49.62 342.95 50.63 342.84 51.63 342.72 52.63 342.6 53.63 342.48 54.64 342.35 55.64 342.22 56.64 342.08 57.64 341.94 58.65 341.79 59.65 341.64 60.65 341.48 61.65 341.31 62.66 341.14 63.66 340.96 64.66 340.77 65.66 340.57 66.67 340.35 67.67 340.13 68.67 339.88 69.67 339.63 70.68 339.35 71.68 339.06 72.68 338.75 73.68 338.42 74.69 338.06 75.69 337.68 76.69 337.28 77.69 336.84 78.7 336.38 79.7 335.89 80.7 335.37 81.71 334.81 82.71 334.22 83.71 333.59 84.71 332.92 85.72 332.22 86.72 331.47 87.72 330.69 88.72 329.86 89.73 328.98 90.73 328.06 91.73 327.09 92.73 326.07 93.74 325 94.74 323.87 95.74 322.7 96.74 321.46 97.75 320.17 98.75 318.82 99.75 317.41 100.75 315.94 101.76 314.4 102.76 312.79 103.76 311.11 104.76 309.36 105.77 307.54 106.77 305.64 107.77 303.65 108.77 301.57 109.78 299.4 110.78 297.13 111.78 294.75 112.78 292.27 113.79 289.67 114.79 286.96 115.79 284.13 116.79 281.21 117.8 278.19 118.8 275.09 119.8 271.94 120.81 268.74 121.81 265.53 122.81 262.33 123.81 259.16 124.82 256.05 125.82 253.03 126.82 250.11 127.82 247.29 128.83 244.61 129.83 242.06 130.83 239.65 131.83 237.38 132.84 235.25 133.84 233.26 134.84 231.4 135.84 229.67 136.85 228.06 137.85 226.56 138.85 225.16 139.85 223.87 140.86 222.66 141.86 221.53 142.86 220.49 143.86 219.52 144.87 218.61 145.87 217.77 146.87 216.99 147.87 216.26 148.88 215.58 149.88 214.95 150.88 214.37 151.88 213.83 152.89 213.33 153.89 212.86 154.89 212.42 155.89 212.01 156.9 211.63 157.9 211.26 158.9 210.9 159.91 210.56 160.91 210.24 161.91 209.92 162.91 209.62 163.92 209.33 164.92 209.04 165.92 208.77 166.92 208.5 167.93 208.25 168.93 208 169.93 207.76 170.93 207.53 171.94 207.3 172.94 207.09 173.94 206.88 174.94 206.68 175.95 206.49 176.95 206.3 177.95 206.13 178.95 205.96 179.96 205.8 180.96 205.65 181.96 205.51 182.96 205.37 183.97 205.24 184.97 205.12 185.97 205 186.97 204.89 187.98 204.78 188.98 204.68 189.98 204.58 190.98 204.48 191.99 204.39 192.99 204.3 193.99 204.22 194.99 204.13 196 204.05 197 203.98" fill="none" stroke="#0000ff" stroke-width="1.7" stroke-linejoin="round" stroke-linecap="butt"/>
<g fill="#ff0000"><circle cx="40.6" cy="527.2" r="2.15"/><circle cx="79.7" cy="525.76" r="2.15"/><circle cx="99.25" cy="518.85" r="2.15"/><circle cx="109.03" cy="499.86" r="2.15"/><circle cx="113.91" cy="480.72" r="2.15"/><circle cx="118.8" cy="448.49" r="2.15"/><circle cx="123.69" cy="426.47" r="2.15"/><circle cx="128.58" cy="408.63" r="2.15"/><circle cx="138.35" cy="393.52" r="2.15"/><circle cx="157.9" cy="385.46" r="2.15"/><circle cx="197" cy="383.73" r="2.15"/></g>
<path d="M79.7 504.61V510.94M78 504.61H81.4M78 510.94H81.4" stroke="#0000ff" stroke-width="0.9" stroke-opacity="0.42" fill="none"/>
<g fill="#0000ff"><circle cx="40.6" cy="526.91" r="2.15"/><circle cx="79.7" cy="507.77" r="2.15"/><circle cx="99.25" cy="498.13" r="2.15"/><circle cx="109.03" cy="484.89" r="2.15"/><circle cx="113.91" cy="473.96" r="2.15"/><circle cx="118.8" cy="459.57" r="2.15"/><circle cx="123.69" cy="444.75" r="2.15"/><circle cx="128.58" cy="431.07" r="2.15"/><circle cx="138.35" cy="414.96" r="2.15"/><circle cx="157.9" cy="396.83" r="2.15"/><circle cx="197" cy="384.31" r="2.15"/></g>
<path d="M40.6 527.05 41.6 527.03 42.61 527.01 43.61 526.99 44.61 526.97 45.61 526.95 46.62 526.93 47.62 526.91 48.62 526.88 49.62 526.86 50.63 526.83 51.63 526.8 52.63 526.77 53.63 526.74 54.64 526.71 55.64 526.67 56.64 526.63 57.64 526.59 58.65 526.54 59.65 526.49 60.65 526.44 61.65 526.39 62.66 526.33 63.66 526.27 64.66 526.2 65.66 526.13 66.67 526.06 67.67 525.99 68.67 525.91 69.67 525.83 70.68 525.75 71.68 525.66 72.68 525.57 73.68 525.48 74.69 525.38 75.69 525.28 76.69 525.17 77.69 525.06 78.7 524.94 79.7 524.81 80.7 524.68 81.71 524.53 82.71 524.38 83.71 524.21 84.71 524.03 85.72 523.84 86.72 523.62 87.72 523.39 88.72 523.14 89.73 522.86 90.73 522.55 91.73 522.2 92.73 521.8 93.74 521.36 94.74 520.84 95.74 520.25 96.74 519.57 97.75 518.79 98.75 517.88 99.75 516.85 100.75 515.66 101.76 514.31 102.76 512.78 103.76 511.04 104.76 509.1 105.77 506.92 106.77 504.5 107.77 501.83 108.77 498.9 109.78 495.7 110.78 492.25 111.78 488.54 112.78 484.57 113.79 480.29 114.79 475.37 115.79 468.87 116.79 460.68 117.8 453.68 118.8 448.26 119.8 443.42 120.81 438.77 121.81 434.26 122.81 429.91 123.81 425.74 124.82 421.79 125.82 418.08 126.82 414.63 127.82 411.43 128.83 408.49 129.83 405.81 130.83 403.39 131.83 401.2 132.84 399.24 133.84 397.5 134.84 395.95 135.84 394.57 136.85 393.36 137.85 392.29 138.85 391.35 139.85 390.52 140.86 389.8 141.86 389.17 142.86 388.61 143.86 388.13 144.87 387.7 145.87 387.33 146.87 387 147.87 386.71 148.88 386.45 149.88 386.23 150.88 386.03 151.88 385.85 152.89 385.69 153.89 385.54 154.89 385.41 155.89 385.29 156.9 385.18 157.9 385.08 158.9 384.99 159.91 384.91 160.91 384.82 161.91 384.75 162.91 384.68 163.92 384.61 164.92 384.54 165.92 384.48 166.92 384.42 167.93 384.36 168.93 384.3 169.93 384.25 170.93 384.19 171.94 384.14 172.94 384.09 173.94 384.04 174.94 383.99 175.95 383.95 176.95 383.91 177.95 383.86 178.95 383.82 179.96 383.79 180.96 383.75 181.96 383.72 182.96 383.69 183.97 383.66 184.97 383.63 185.97 383.6 186.97 383.58 187.98 383.55 188.98 383.53 189.98 383.51 190.98 383.49 191.99 383.46 192.99 383.44 193.99 383.43 194.99 383.41 196 383.39 197 383.37" fill="none" stroke="#ff0000" stroke-width="1.7" stroke-linejoin="round" stroke-linecap="butt"/>
<path d="M40.6 519.73 41.6 519.73 42.61 519.73 43.61 519.73 44.61 519.72 45.61 519.71 46.62 519.7 47.62 519.69 48.62 519.67 49.62 519.65 50.63 519.63 51.63 519.6 52.63 519.57 53.63 519.53 54.64 519.49 55.64 519.44 56.64 519.39 57.64 519.33 58.65 519.26 59.65 519.18 60.65 519.1 61.65 519.01 62.66 518.91 63.66 518.8 64.66 518.68 65.66 518.55 66.67 518.41 67.67 518.25 68.67 518.08 69.67 517.89 70.68 517.69 71.68 517.47 72.68 517.23 73.68 516.97 74.69 516.69 75.69 516.38 76.69 516.05 77.69 515.69 78.7 515.31 79.7 514.9 80.7 514.45 81.71 513.98 82.71 513.46 83.71 512.92 84.71 512.33 85.72 511.71 86.72 511.05 87.72 510.34 88.72 509.59 89.73 508.8 90.73 507.95 91.73 507.06 92.73 506.12 93.74 505.13 94.74 504.09 95.74 502.99 96.74 501.84 97.75 500.64 98.75 499.39 99.75 498.08 100.75 496.72 101.76 495.3 102.76 493.83 103.76 492.29 104.76 490.68 105.77 489.01 106.77 487.27 107.77 485.46 108.77 483.57 109.78 481.61 110.78 479.56 111.78 477.43 112.78 475.21 113.79 472.88 114.79 470.43 115.79 467.85 116.79 465.11 117.8 462.21 118.8 459.16 119.8 456 120.81 452.76 121.81 449.54 122.81 446.4 123.81 443.4 124.82 440.55 125.82 437.88 126.82 435.36 127.82 432.98 128.83 430.72 129.83 428.56 130.83 426.5 131.83 424.52 132.84 422.62 133.84 420.79 134.84 419.03 135.84 417.35 136.85 415.72 137.85 414.17 138.85 412.68 139.85 411.26 140.86 409.9 141.86 408.6 142.86 407.37 143.86 406.2 144.87 405.1 145.87 404.05 146.87 403.06 147.87 402.13 148.88 401.25 149.88 400.43 150.88 399.65 151.88 398.93 152.89 398.25 153.89 397.62 154.89 397.03 155.89 396.48 156.9 395.97 157.9 395.49 158.9 395.05 159.91 394.64 160.91 394.26 161.91 393.91 162.91 393.59 163.92 393.29 164.92 393.01 165.92 392.76 166.92 392.53 167.93 392.32 168.93 392.12 169.93 391.94 170.93 391.78 171.94 391.62 172.94 391.49 173.94 391.36 174.94 391.24 175.95 391.14 176.95 391.04 177.95 390.95 178.95 390.87 179.96 390.79 180.96 390.72 181.96 390.66 182.96 390.6 183.97 390.54 184.97 390.49 185.97 390.44 186.97 390.4 187.98 390.36 188.98 390.32 189.98 390.28 190.98 390.25 191.99 390.22 192.99 390.19 193.99 390.17 194.99 390.15 196 390.13 197 390.11" fill="none" stroke="#0000ff" stroke-width="1.7" stroke-linejoin="round" stroke-linecap="butt"/>
<g fill="#ff0000"><circle cx="40.6" cy="714.68" r="2.15"/><circle cx="79.7" cy="712.23" r="2.15"/><circle cx="99.25" cy="708.91" r="2.15"/><circle cx="109.03" cy="695.49" r="2.15"/><circle cx="113.91" cy="675.43" r="2.15"/><circle cx="118.8" cy="642.67" r="2.15"/><circle cx="123.69" cy="607.32" r="2.15"/><circle cx="128.58" cy="586.68" r="2.15"/><circle cx="138.35" cy="574.85" r="2.15"/><circle cx="157.9" cy="571.82" r="2.15"/><circle cx="197" cy="571.1" r="2.15"/></g>
<g fill="#0000ff"><circle cx="40.6" cy="708.33" r="2.15"/><circle cx="79.7" cy="710.93" r="2.15"/><circle cx="99.25" cy="689.71" r="2.15"/><circle cx="109.03" cy="681.06" r="2.15"/><circle cx="113.91" cy="663.31" r="2.15"/><circle cx="118.8" cy="643.83" r="2.15"/><circle cx="123.69" cy="611.5" r="2.15"/><circle cx="128.58" cy="592.89" r="2.15"/><circle cx="138.35" cy="579.33" r="2.15"/><circle cx="157.9" cy="573.12" r="2.15"/><circle cx="197" cy="571.1" r="2.15"/></g>
<path d="M40.6 714.7 41.6 714.64 42.61 714.59 43.61 714.53 44.61 714.47 45.61 714.41 46.62 714.34 47.62 714.28 48.62 714.21 49.62 714.14 50.63 714.07 51.63 714 52.63 713.92 53.63 713.84 54.64 713.76 55.64 713.67 56.64 713.58 57.64 713.49 58.65 713.38 59.65 713.28 60.65 713.17 61.65 713.05 62.66 712.92 63.66 712.79 64.66 712.65 65.66 712.51 66.67 712.35 67.67 712.18 68.67 712.01 69.67 711.82 70.68 711.62 71.68 711.41 72.68 711.19 73.68 710.95 74.69 710.69 75.69 710.42 76.69 710.12 77.69 709.81 78.7 709.47 79.7 709.1 80.7 708.71 81.71 708.29 82.71 707.84 83.71 707.35 84.71 706.82 85.72 706.26 86.72 705.65 87.72 705 88.72 704.29 89.73 703.53 90.73 702.71 91.73 701.82 92.73 700.86 93.74 699.83 94.74 698.72 95.74 697.52 96.74 696.24 97.75 694.85 98.75 693.36 99.75 691.77 100.75 690.07 101.76 688.25 102.76 686.32 103.76 684.27 104.76 682.11 105.77 679.83 106.77 677.44 107.77 674.95 108.77 672.36 109.78 669.68 110.78 666.91 111.78 664.07 112.78 661.17 113.79 658.21 114.79 655.21 115.79 652.17 116.79 649.11 117.8 646.04 118.8 642.97 119.8 639.9 120.81 636.86 121.81 633.84 122.81 630.87 123.81 627.94 124.82 625.07 125.82 622.25 126.82 619.5 127.82 616.82 128.83 614.18 129.83 611.58 130.83 608.99 131.83 606.4 132.84 603.83 133.84 601.33 134.84 598.98 135.84 596.84 136.85 594.9 137.85 593.14 138.85 591.53 139.85 590.05 140.86 588.68 141.86 587.41 142.86 586.24 143.86 585.15 144.87 584.14 145.87 583.21 146.87 582.34 147.87 581.54 148.88 580.8 149.88 580.11 150.88 579.48 151.88 578.89 152.89 578.35 153.89 577.85 154.89 577.38 155.89 576.96 156.9 576.56 157.9 576.2 158.9 575.87 159.91 575.56 160.91 575.28 161.91 575.02 162.91 574.78 163.92 574.56 164.92 574.35 165.92 574.17 166.92 573.99 167.93 573.83 168.93 573.68 169.93 573.53 170.93 573.4 171.94 573.28 172.94 573.16 173.94 573.05 174.94 572.94 175.95 572.84 176.95 572.75 177.95 572.65 178.95 572.57 179.96 572.48 180.96 572.4 181.96 572.33 182.96 572.25 183.97 572.18 184.97 572.11 185.97 572.05 186.97 571.98 187.98 571.92 188.98 571.86 189.98 571.8 190.98 571.74 191.99 571.68 192.99 571.63 193.99 571.58 194.99 571.52 196 571.47 197 571.42" fill="none" stroke="#0000ff" stroke-width="1.7" stroke-linejoin="round" stroke-linecap="butt"/>
<path d="M40.6 715.16 41.6 715.14 42.61 715.13 43.61 715.11 44.61 715.1 45.61 715.08 46.62 715.07 47.62 715.05 48.62 715.04 49.62 715.03 50.63 715.01 51.63 715 52.63 714.99 53.63 714.98 54.64 714.97 55.64 714.97 56.64 714.96 57.64 714.95 58.65 714.95 59.65 714.95 60.65 714.95 61.65 714.94 62.66 714.94 63.66 714.94 64.66 714.94 65.66 714.94 66.67 714.93 67.67 714.92 68.67 714.91 69.67 714.89 70.68 714.87 71.68 714.84 72.68 714.81 73.68 714.76 74.69 714.71 75.69 714.65 76.69 714.58 77.69 714.49 78.7 714.39 79.7 714.28 80.7 714.15 81.71 714 82.71 713.82 83.71 713.63 84.71 713.41 85.72 713.17 86.72 712.89 87.72 712.58 88.72 712.24 89.73 711.85 90.73 711.43 91.73 710.96 92.73 710.45 93.74 709.88 94.74 709.25 95.74 708.56 96.74 707.79 97.75 706.93 98.75 705.99 99.75 704.93 100.75 703.75 101.76 702.44 102.76 700.98 103.76 699.33 104.76 697.5 105.77 695.45 106.77 693.16 107.77 690.6 108.77 687.76 109.78 684.61 110.78 681.14 111.78 677.33 112.78 673.18 113.79 668.7 114.79 663.91 115.79 658.84 116.79 653.53 117.8 648.06 118.8 642.48 119.8 636.87 120.81 631.31 121.81 625.86 122.81 620.6 123.81 615.58 124.82 610.85 125.82 606.44 126.82 602.38 127.82 598.68 128.83 595.32 129.83 592.31 130.83 589.62 131.83 587.24 132.84 585.14 133.84 583.29 134.84 581.68 135.84 580.28 136.85 579.06 137.85 578 138.85 577.09 139.85 576.31 140.86 575.63 141.86 575.05 142.86 574.55 143.86 574.13 144.87 573.76 145.87 573.45 146.87 573.18 147.87 572.95 148.88 572.75 149.88 572.58 150.88 572.44 151.88 572.31 152.89 572.2 153.89 572.1 154.89 572.02 155.89 571.95 156.9 571.88 157.9 571.83 158.9 571.78 159.91 571.73 160.91 571.69 161.91 571.66 162.91 571.62 163.92 571.59 164.92 571.56 165.92 571.53 166.92 571.51 167.93 571.48 168.93 571.46 169.93 571.44 170.93 571.41 171.94 571.39 172.94 571.37 173.94 571.35 174.94 571.33 175.95 571.31 176.95 571.3 177.95 571.28 178.95 571.26 179.96 571.25 180.96 571.23 181.96 571.22 182.96 571.21 183.97 571.2 184.97 571.19 185.97 571.18 186.97 571.17 187.98 571.16 188.98 571.15 189.98 571.14 190.98 571.13 191.99 571.12 192.99 571.12 193.99 571.11 194.99 571.1 196 571.1 197 571.09" fill="none" stroke="#ff0000" stroke-width="1.7" stroke-linejoin="round" stroke-linecap="butt"/>
<g fill="#ff0000"><circle cx="40.6" cy="896.48" r="2.15"/><circle cx="79.7" cy="894.04" r="2.15"/><circle cx="99.25" cy="890.73" r="2.15"/><circle cx="109.03" cy="877.36" r="2.15"/><circle cx="113.91" cy="857.37" r="2.15"/><circle cx="118.8" cy="824.72" r="2.15"/><circle cx="123.69" cy="789.49" r="2.15"/><circle cx="128.58" cy="768.93" r="2.15"/><circle cx="138.35" cy="757.14" r="2.15"/><circle cx="157.9" cy="754.12" r="2.15"/><circle cx="197" cy="753.4" r="2.15"/></g>
<g fill="#0000ff"><circle cx="40.6" cy="890.15" r="2.15"/><circle cx="79.7" cy="892.74" r="2.15"/><circle cx="99.25" cy="871.6" r="2.15"/><circle cx="109.03" cy="862.98" r="2.15"/><circle cx="113.91" cy="845.29" r="2.15"/><circle cx="118.8" cy="825.88" r="2.15"/><circle cx="123.69" cy="793.66" r="2.15"/><circle cx="128.58" cy="775.11" r="2.15"/><circle cx="138.35" cy="761.6" r="2.15"/><circle cx="157.9" cy="755.41" r="2.15"/><circle cx="197" cy="753.4" r="2.15"/></g>
<path d="M40.6 897.02 41.6 897.03 42.61 897.04 43.61 897.04 44.61 897.04 45.61 897.04 46.62 897.04 47.62 897.04 48.62 897.03 49.62 897.02 50.63 897 51.63 896.98 52.63 896.95 53.63 896.92 54.64 896.89 55.64 896.85 56.64 896.8 57.64 896.74 58.65 896.68 59.65 896.61 60.65 896.53 61.65 896.44 62.66 896.34 63.66 896.24 64.66 896.12 65.66 895.98 66.67 895.84 67.67 895.68 68.67 895.5 69.67 895.31 70.68 895.11 71.68 894.88 72.68 894.63 73.68 894.36 74.69 894.07 75.69 893.76 76.69 893.42 77.69 893.05 78.7 892.65 79.7 892.21 80.7 891.75 81.71 891.24 82.71 890.7 83.71 890.12 84.71 889.5 85.72 888.83 86.72 888.11 87.72 887.35 88.72 886.53 89.73 885.65 90.73 884.72 91.73 883.73 92.73 882.67 93.74 881.55 94.74 880.35 95.74 879.09 96.74 877.74 97.75 876.32 98.75 874.82 99.75 873.23 100.75 871.56 101.76 869.8 102.76 867.95 103.76 866.02 104.76 864 105.77 861.9 106.77 859.71 107.77 857.43 108.77 855.08 109.78 852.65 110.78 850.15 111.78 847.57 112.78 844.92 113.79 842.2 114.79 839.42 115.79 836.57 116.79 833.64 117.8 830.65 118.8 827.57 119.8 824.4 120.81 821.16 121.81 817.83 122.81 814.46 123.81 811.08 124.82 807.73 125.82 804.46 126.82 801.31 127.82 798.32 128.83 795.5 129.83 792.85 130.83 790.36 131.83 788.02 132.84 785.82 133.84 783.75 134.84 781.79 135.84 779.94 136.85 778.2 137.85 776.55 138.85 775 139.85 773.54 140.86 772.16 141.86 770.86 142.86 769.65 143.86 768.5 144.87 767.43 145.87 766.43 146.87 765.5 147.87 764.63 148.88 763.81 149.88 763.06 150.88 762.36 151.88 761.71 152.89 761.11 153.89 760.55 154.89 760.04 155.89 759.57 156.9 759.13 157.9 758.73 158.9 758.36 159.91 758.01 160.91 757.7 161.91 757.4 162.91 757.13 163.92 756.88 164.92 756.65 165.92 756.43 166.92 756.23 167.93 756.04 168.93 755.86 169.93 755.7 170.93 755.55 171.94 755.41 172.94 755.28 173.94 755.15 174.94 755.04 175.95 754.93 176.95 754.84 177.95 754.75 178.95 754.66 179.96 754.59 180.96 754.52 181.96 754.45 182.96 754.4 183.97 754.34 184.97 754.29 185.97 754.25 186.97 754.21 187.98 754.18 188.98 754.15 189.98 754.12 190.98 754.09 191.99 754.07 192.99 754.05 193.99 754.03 194.99 754.01 196 754 197 753.98" fill="none" stroke="#0000ff" stroke-width="1.7" stroke-linejoin="round" stroke-linecap="butt"/>
<path d="M40.6 897.31 41.6 897.31 42.61 897.31 43.61 897.31 44.61 897.31 45.61 897.31 46.62 897.31 47.62 897.31 48.62 897.31 49.62 897.31 50.63 897.31 51.63 897.31 52.63 897.3 53.63 897.3 54.64 897.3 55.64 897.3 56.64 897.3 57.64 897.29 58.65 897.29 59.65 897.29 60.65 897.28 61.65 897.28 62.66 897.27 63.66 897.27 64.66 897.26 65.66 897.26 66.67 897.25 67.67 897.24 68.67 897.23 69.67 897.23 70.68 897.22 71.68 897.21 72.68 897.2 73.68 897.19 74.69 897.18 75.69 897.16 76.69 897.15 77.69 897.14 78.7 897.12 79.7 897.1 80.7 897.08 81.71 897.06 82.71 897.03 83.71 897 84.71 896.96 85.72 896.92 86.72 896.86 87.72 896.8 88.72 896.72 89.73 896.63 90.73 896.52 91.73 896.39 92.73 896.23 93.74 896.04 94.74 895.8 95.74 895.51 96.74 895.16 97.75 894.74 98.75 894.22 99.75 893.59 100.75 892.83 101.76 891.92 102.76 890.81 103.76 889.48 104.76 887.88 105.77 885.98 106.77 883.73 107.77 881.07 108.77 877.98 109.78 874.39 110.78 870.29 111.78 865.66 112.78 860.49 113.79 854.81 114.79 848.69 115.79 842.2 116.79 835.44 117.8 828.51 118.8 821.52 119.8 814.53 120.81 807.56 121.81 800.57 122.81 793.65 123.81 787.07 124.82 781.22 125.82 776.3 126.82 772.28 127.82 768.99 128.83 766.28 129.83 764.03 130.83 762.16 131.83 760.6 132.84 759.31 133.84 758.24 134.84 757.35 135.84 756.63 136.85 756.03 137.85 755.54 138.85 755.14 139.85 754.81 140.86 754.55 141.86 754.33 142.86 754.16 143.86 754.02 144.87 753.91 145.87 753.82 146.87 753.75 147.87 753.69 148.88 753.64 149.88 753.6 150.88 753.57 151.88 753.55 152.89 753.52 153.89 753.51 154.89 753.49 155.89 753.48 156.9 753.47 157.9 753.46 158.9 753.45 159.91 753.44 160.91 753.44 161.91 753.43 162.91 753.42 163.92 753.42 164.92 753.41 165.92 753.4 166.92 753.4 167.93 753.39 168.93 753.38 169.93 753.38 170.93 753.37 171.94 753.36 172.94 753.36 173.94 753.35 174.94 753.35 175.95 753.34 176.95 753.34 177.95 753.33 178.95 753.33 179.96 753.32 180.96 753.32 181.96 753.31 182.96 753.31 183.97 753.31 184.97 753.31 185.97 753.3 186.97 753.3 187.98 753.3 188.98 753.3 189.98 753.3 190.98 753.3 191.99 753.3 192.99 753.3 193.99 753.29 194.99 753.29 196 753.29 197 753.29" fill="none" stroke="#ff0000" stroke-width="1.7" stroke-linejoin="round" stroke-linecap="butt"/>
<g fill="#ff0000"><circle cx="40.6" cy="1085.68" r="2.15"/><circle cx="79.7" cy="1083.23" r="2.15"/><circle cx="99.25" cy="1079.92" r="2.15"/><circle cx="109.03" cy="1066.51" r="2.15"/><circle cx="113.91" cy="1046.48" r="2.15"/><circle cx="118.8" cy="1013.77" r="2.15"/><circle cx="123.69" cy="978.47" r="2.15"/><circle cx="128.58" cy="957.86" r="2.15"/><circle cx="138.35" cy="946.05" r="2.15"/><circle cx="157.9" cy="943.02" r="2.15"/><circle cx="197" cy="942.3" r="2.15"/></g>
<g fill="#0000ff"><circle cx="40.6" cy="1079.34" r="2.15"/><circle cx="79.7" cy="1081.93" r="2.15"/><circle cx="99.25" cy="1060.75" r="2.15"/><circle cx="109.03" cy="1052.1" r="2.15"/><circle cx="113.91" cy="1034.38" r="2.15"/><circle cx="118.8" cy="1014.93" r="2.15"/><circle cx="123.69" cy="982.65" r="2.15"/><circle cx="128.58" cy="964.06" r="2.15"/><circle cx="138.35" cy="950.51" r="2.15"/><circle cx="157.9" cy="944.32" r="2.15"/><circle cx="197" cy="942.3" r="2.15"/></g>
<path d="M40.6 1084.49 41.6 1084.31 42.61 1084.13 43.61 1083.95 44.61 1083.76 45.61 1083.58 46.62 1083.39 47.62 1083.2 48.62 1083.01 49.62 1082.82 50.63 1082.63 51.63 1082.44 52.63 1082.24 53.63 1082.05 54.64 1081.86 55.64 1081.66 56.64 1081.47 57.64 1081.27 58.65 1081.07 59.65 1080.87 60.65 1080.67 61.65 1080.47 62.66 1080.27 63.66 1080.06 64.66 1079.84 65.66 1079.62 66.67 1079.4 67.67 1079.16 68.67 1078.92 69.67 1078.66 70.68 1078.39 71.68 1078.11 72.68 1077.81 73.68 1077.5 74.69 1077.17 75.69 1076.81 76.69 1076.44 77.69 1076.04 78.7 1075.62 79.7 1075.16 80.7 1074.68 81.71 1074.17 82.71 1073.63 83.71 1073.05 84.71 1072.44 85.72 1071.79 86.72 1071.11 87.72 1070.39 88.72 1069.64 89.73 1068.83 90.73 1067.99 91.73 1067.09 92.73 1066.15 93.74 1065.16 94.74 1064.1 95.74 1063 96.74 1061.83 97.75 1060.59 98.75 1059.29 99.75 1057.93 100.75 1056.49 101.76 1054.98 102.76 1053.4 103.76 1051.74 104.76 1050 105.77 1048.19 106.77 1046.31 107.77 1044.35 108.77 1042.33 109.78 1040.24 110.78 1038.1 111.78 1035.22 112.78 1028.59 113.79 1026.3 114.79 1023.97 115.79 1021.61 116.79 1019.22 117.8 1016.8 118.8 1014.38 119.8 1011.94 120.81 1009.5 121.81 1007.06 122.81 1004.64 123.81 1002.22 124.82 999.83 125.82 997.46 126.82 995.11 127.82 992.81 128.83 990.54 129.83 988.31 130.83 986.13 131.83 984 132.84 981.93 133.84 979.91 134.84 977.96 135.84 976.06 136.85 974.24 137.85 972.49 138.85 970.82 139.85 969.22 140.86 967.7 141.86 966.26 142.86 964.9 143.86 963.61 144.87 962.4 145.87 961.25 146.87 960.17 147.87 959.15 148.88 958.19 149.88 957.29 150.88 956.45 151.88 955.66 152.89 954.93 153.89 954.24 154.89 953.59 155.89 952.99 156.9 952.43 157.9 951.9 158.9 951.42 159.91 950.96 160.91 950.54 161.91 950.15 162.91 949.78 163.92 949.44 164.92 949.11 165.92 948.81 166.92 948.53 167.93 948.26 168.93 948.01 169.93 947.77 170.93 947.55 171.94 947.33 172.94 947.13 173.94 946.94 174.94 946.75 175.95 946.58 176.95 946.41 177.95 946.25 178.95 946.09 179.96 945.94 180.96 945.8 181.96 945.66 182.96 945.53 183.97 945.4 184.97 945.28 185.97 945.16 186.97 945.04 187.98 944.93 188.98 944.82 189.98 944.72 190.98 944.62 191.99 944.52 192.99 944.43 193.99 944.33 194.99 944.24 196 944.16 197 944.08" fill="none" stroke="#0000ff" stroke-width="1.7" stroke-linejoin="round" stroke-linecap="butt"/>
<path d="M40.6 1086.36 41.6 1086.36 42.61 1086.35 43.61 1086.35 44.61 1086.35 45.61 1086.35 46.62 1086.35 47.62 1086.35 48.62 1086.35 49.62 1086.35 50.63 1086.35 51.63 1086.36 52.63 1086.36 53.63 1086.37 54.64 1086.37 55.64 1086.38 56.64 1086.39 57.64 1086.4 58.65 1086.41 59.65 1086.42 60.65 1086.43 61.65 1086.44 62.66 1086.46 63.66 1086.47 64.66 1086.48 65.66 1086.49 66.67 1086.5 67.67 1086.5 68.67 1086.5 69.67 1086.5 70.68 1086.49 71.68 1086.47 72.68 1086.45 73.68 1086.42 74.69 1086.38 75.69 1086.32 76.69 1086.25 77.69 1086.17 78.7 1086.07 79.7 1085.95 80.7 1085.81 81.71 1085.65 82.71 1085.46 83.71 1085.24 84.71 1084.98 85.72 1084.69 86.72 1084.35 87.72 1083.97 88.72 1083.53 89.73 1083.04 90.73 1082.49 91.73 1081.86 92.73 1081.16 93.74 1080.38 94.74 1079.51 95.74 1078.54 96.74 1077.46 97.75 1076.26 98.75 1074.94 99.75 1073.47 100.75 1071.86 101.76 1070.08 102.76 1068.14 103.76 1066.03 104.76 1063.73 105.77 1061.25 106.77 1058.58 107.77 1055.73 108.77 1052.7 109.78 1049.49 110.78 1046.11 111.78 1042.57 112.78 1038.88 113.79 1035.04 114.79 1031.06 115.79 1026.97 116.79 1022.76 117.8 1018.45 118.8 1014.05 119.8 1009.56 120.81 1004.98 121.81 1000.33 122.81 995.62 123.81 990.92 124.82 986.31 125.82 981.88 126.82 977.74 127.82 973.95 128.83 970.52 129.83 967.47 130.83 964.76 131.83 962.35 132.84 960.23 133.84 958.34 134.84 956.66 135.84 955.16 136.85 953.83 137.85 952.64 138.85 951.58 139.85 950.64 140.86 949.78 141.86 949.02 142.86 948.33 143.86 947.72 144.87 947.18 145.87 946.69 146.87 946.26 147.87 945.88 148.88 945.53 149.88 945.23 150.88 944.95 151.88 944.71 152.89 944.49 153.89 944.29 154.89 944.11 155.89 943.95 156.9 943.81 157.9 943.68 158.9 943.56 159.91 943.46 160.91 943.36 161.91 943.27 162.91 943.19 163.92 943.12 164.92 943.06 165.92 943 166.92 942.94 167.93 942.89 168.93 942.84 169.93 942.8 170.93 942.76 171.94 942.72 172.94 942.68 173.94 942.65 174.94 942.62 175.95 942.59 176.95 942.56 177.95 942.54 178.95 942.51 179.96 942.49 180.96 942.46 181.96 942.44 182.96 942.42 183.97 942.4 184.97 942.38 185.97 942.36 186.97 942.35 187.98 942.33 188.98 942.31 189.98 942.29 190.98 942.28 191.99 942.26 192.99 942.25 193.99 942.23 194.99 942.21 196 942.2 197 942.18" fill="none" stroke="#ff0000" stroke-width="1.7" stroke-linejoin="round" stroke-linecap="butt"/>
<path d="M260.6 140.7 261.6 140.14 262.61 139.57 263.61 138.98 264.61 138.39 265.61 137.79 266.62 137.17 267.62 136.55 268.62 135.92 269.62 135.29 270.63 134.64 271.63 133.99 272.63 133.33 273.63 132.66 274.64 131.98 275.64 131.29 276.64 130.59 277.64 129.87 278.65 129.13 279.65 128.37 280.65 127.6 281.65 126.8 282.66 125.98 283.66 125.14 284.66 124.27 285.66 123.38 286.67 122.46 287.67 121.52 288.67 120.54 289.67 119.55 290.68 118.52 291.68 117.46 292.68 116.37 293.68 115.24 294.69 114.08 295.69 112.88 296.69 111.64 297.69 110.35 298.7 109.02 299.7 107.65 300.7 106.22 301.71 104.74 302.71 103.19 303.71 101.58 304.71 99.89 305.72 98.12 306.72 96.27 307.72 94.32 308.72 92.29 309.73 90.17 310.73 87.97 311.73 85.68 312.73 83.32 313.74 80.88 314.74 78.38 315.74 75.83 316.74 73.23 317.75 70.61 318.75 67.98 319.75 65.34 320.75 62.73 321.76 60.15 322.76 57.62 323.76 55.14 324.76 52.74 325.77 50.42 326.77 48.2 327.77 46.1 328.77 44.13 329.78 42.31 330.78 40.64 331.78 39.15 332.78 37.84 333.79 36.72 334.79 35.82 335.79 35.13 336.79 34.67 337.8 34.45 338.8 34.46 339.8 34.68 340.81 35.1 341.81 35.71 342.81 36.5 343.81 37.47 344.82 38.61 345.82 39.91 346.82 41.35 347.82 42.93 348.83 44.63 349.83 46.44 350.83 48.35 351.83 50.34 352.84 52.4 353.84 54.53 354.84 56.7 355.84 58.91 356.85 61.15 357.85 63.4 358.85 65.65 359.85 67.9 360.86 70.13 361.86 72.34 362.86 74.52 363.86 76.66 364.87 78.77 365.87 80.83 366.87 82.84 367.87 84.8 368.88 86.71 369.88 88.56 370.88 90.37 371.88 92.13 372.89 93.85 373.89 95.52 374.89 97.14 375.89 98.73 376.9 100.27 377.9 101.78 378.9 103.25 379.91 104.68 380.91 106.08 381.91 107.45 382.91 108.79 383.92 110.1 384.92 111.37 385.92 112.61 386.92 113.82 387.93 115 388.93 116.15 389.93 117.27 390.93 118.35 391.94 119.41 392.94 120.45 393.94 121.46 394.94 122.45 395.95 123.41 396.95 124.36 397.95 125.29 398.95 126.2 399.96 127.1 400.96 127.98 401.96 128.84 402.96 129.69 403.97 130.52 404.97 131.34 405.97 132.14 406.97 132.94 407.98 133.71 408.98 134.48 409.98 135.23 410.98 135.96 411.99 136.69 412.99 137.4 413.99 138.1 414.99 138.79 416 139.46 417 140.12" fill="none" stroke="#0000ff" stroke-width="1.7" stroke-linejoin="round" stroke-linecap="butt"/>
<path d="M260.6 156.66 261.6 156.29 262.61 155.92 263.61 155.53 264.61 155.14 265.61 154.74 266.62 154.32 267.62 153.91 268.62 153.48 269.62 153.04 270.63 152.6 271.63 152.14 272.63 151.68 273.63 151.21 274.64 150.72 275.64 150.23 276.64 149.72 277.64 149.19 278.65 148.65 279.65 148.09 280.65 147.52 281.65 146.92 282.66 146.31 283.66 145.67 284.66 145.01 285.66 144.33 286.67 143.63 287.67 142.9 288.67 142.15 289.67 141.37 290.68 140.57 291.68 139.74 292.68 138.88 293.68 137.99 294.69 137.06 295.69 136.1 296.69 135.1 297.69 134.06 298.7 132.99 299.7 131.87 300.7 130.7 301.71 129.49 302.71 128.24 303.71 126.94 304.71 125.59 305.72 124.19 306.72 122.75 307.72 121.25 308.72 119.72 309.73 118.13 310.73 116.5 311.73 114.82 312.73 113.09 313.74 111.33 314.74 109.53 315.74 107.69 316.74 105.83 317.75 103.94 318.75 102.03 319.75 100.11 320.75 98.19 321.76 96.29 322.76 94.41 323.76 92.58 324.76 90.81 325.77 89.11 326.77 87.52 327.77 86.03 328.77 84.67 329.78 83.43 330.78 82.34 331.78 81.39 332.78 80.58 333.79 79.93 334.79 79.42 335.79 79.06 336.79 78.85 337.8 78.75 338.8 78.75 339.8 78.86 340.81 79.1 341.81 79.48 342.81 80.01 343.81 80.7 344.82 81.55 345.82 82.54 346.82 83.68 347.82 84.96 348.83 86.37 349.83 87.89 350.83 89.51 351.83 91.22 352.84 93.01 353.84 94.86 354.84 96.75 355.84 98.68 356.85 100.63 357.85 102.59 358.85 104.54 359.85 106.47 360.86 108.37 361.86 110.24 362.86 112.06 363.86 113.84 364.87 115.57 365.87 117.23 366.87 118.84 367.87 120.38 368.88 121.87 369.88 123.29 370.88 124.66 371.88 125.96 372.89 127.21 373.89 128.41 374.89 129.55 375.89 130.65 376.9 131.71 377.9 132.72 378.9 133.7 379.91 134.64 380.91 135.56 381.91 136.45 382.91 137.31 383.92 138.15 384.92 138.97 385.92 139.77 386.92 140.55 387.93 141.32 388.93 142.07 389.93 142.8 390.93 143.52 391.94 144.23 392.94 144.92 393.94 145.59 394.94 146.24 395.95 146.88 396.95 147.5 397.95 148.1 398.95 148.68 399.96 149.24 400.96 149.78 401.96 150.31 402.96 150.83 403.97 151.33 404.97 151.81 405.97 152.29 406.97 152.75 407.98 153.2 408.98 153.65 409.98 154.08 410.98 154.5 411.99 154.91 412.99 155.31 413.99 155.71 414.99 156.09 416 156.47 417 156.84" fill="none" stroke="#ff0000" stroke-width="1.7" stroke-linejoin="round" stroke-linecap="butt"/>
<g fill="#ff0000"><circle cx="260.6" cy="155.78" r="2.15"/><circle cx="299.7" cy="132.45" r="2.15"/><circle cx="319.25" cy="102.15" r="2.15"/><circle cx="329.03" cy="84.11" r="2.15"/><circle cx="333.91" cy="79.54" r="2.15"/><circle cx="338.8" cy="75.69" r="2.15"/><circle cx="343.69" cy="78.58" r="2.15"/><circle cx="348.57" cy="86.04" r="2.15"/><circle cx="358.35" cy="104.31" r="2.15"/><circle cx="377.9" cy="133.89" r="2.15"/><circle cx="417" cy="156.26" r="2.15"/></g>
<path d="M260.6 150.49V156.26M258.9 150.49H262.3M258.9 156.26H262.3" stroke="#0000ff" stroke-width="0.9" stroke-opacity="0.42" fill="none"/>
<path d="M299.7 110.33V116.1M298 110.33H301.4M298 116.1H301.4" stroke="#0000ff" stroke-width="0.9" stroke-opacity="0.42" fill="none"/>
<g fill="#0000ff"><circle cx="260.6" cy="153.38" r="2.15"/><circle cx="299.7" cy="113.21" r="2.15"/><circle cx="319.25" cy="57.9" r="2.15"/><circle cx="329.03" cy="38.9" r="2.15"/><circle cx="333.91" cy="33.61" r="2.15"/><circle cx="338.8" cy="31.92" r="2.15"/><circle cx="343.69" cy="37.69" r="2.15"/><circle cx="348.57" cy="46.83" r="2.15"/><circle cx="358.35" cy="67.28" r="2.15"/><circle cx="377.9" cy="117.78" r="2.15"/><circle cx="417" cy="154.58" r="2.15"/></g>
<path d="M260.6 323.41 261.6 322.93 262.61 322.43 263.61 321.93 264.61 321.42 265.61 320.89 266.62 320.36 267.62 319.82 268.62 319.27 269.62 318.72 270.63 318.15 271.63 317.58 272.63 317 273.63 316.41 274.64 315.81 275.64 315.21 276.64 314.59 277.64 313.95 278.65 313.31 279.65 312.64 280.65 311.97 281.65 311.27 282.66 310.56 283.66 309.82 284.66 309.07 285.66 308.29 286.67 307.49 287.67 306.65 288.67 305.8 289.67 304.91 290.68 303.98 291.68 303.03 292.68 302.03 293.68 301 294.69 299.92 295.69 298.8 296.69 297.63 297.69 296.41 298.7 295.15 299.7 293.82 300.7 292.44 301.71 290.99 302.71 289.47 303.71 287.88 304.71 286.2 305.72 284.44 306.72 282.59 307.72 280.64 308.72 278.6 309.73 276.46 310.73 274.23 311.73 271.92 312.73 269.52 313.74 267.05 314.74 264.51 315.74 261.91 316.74 259.27 317.75 256.62 318.75 253.95 319.75 251.3 320.75 248.68 321.76 246.11 322.76 243.61 323.76 241.19 324.76 238.88 325.77 236.69 326.77 234.64 327.77 232.75 328.77 231.03 329.78 229.48 330.78 228.12 331.78 226.96 332.78 225.98 333.79 225.2 334.79 224.61 335.79 224.21 336.79 223.98 337.8 223.91 338.8 223.96 339.8 224.1 340.81 224.34 341.81 224.72 342.81 225.26 343.81 225.95 344.82 226.8 345.82 227.81 346.82 228.98 347.82 230.31 348.83 231.77 349.83 233.37 350.83 235.08 351.83 236.91 352.84 238.83 353.84 240.84 354.84 242.92 355.84 245.06 356.85 247.25 357.85 249.48 358.85 251.72 359.85 253.97 360.86 256.21 361.86 258.44 362.86 260.65 363.86 262.82 364.87 264.96 365.87 267.05 366.87 269.1 367.87 271.1 368.88 273.06 369.88 274.97 370.88 276.83 371.88 278.65 372.89 280.44 373.89 282.18 374.89 283.89 375.89 285.56 376.9 287.19 377.9 288.78 378.9 290.34 379.91 291.85 380.91 293.32 381.91 294.76 382.91 296.16 383.92 297.52 384.92 298.84 385.92 300.12 386.92 301.36 387.93 302.56 388.93 303.73 389.93 304.85 390.93 305.94 391.94 306.99 392.94 308.01 393.94 308.99 394.94 309.94 395.95 310.86 396.95 311.74 397.95 312.59 398.95 313.41 399.96 314.19 400.96 314.95 401.96 315.68 402.96 316.39 403.97 317.06 404.97 317.72 405.97 318.34 406.97 318.95 407.98 319.53 408.98 320.08 409.98 320.62 410.98 321.14 411.99 321.65 412.99 322.13 413.99 322.6 414.99 323.06 416 323.5 417 323.93" fill="none" stroke="#0000ff" stroke-width="1.7" stroke-linejoin="round" stroke-linecap="butt"/>
<path d="M260.6 337.28 261.6 336.89 262.61 336.49 263.61 336.07 264.61 335.65 265.61 335.22 266.62 334.78 267.62 334.33 268.62 333.87 269.62 333.39 270.63 332.91 271.63 332.42 272.63 331.91 273.63 331.39 274.64 330.86 275.64 330.32 276.64 329.76 277.64 329.19 278.65 328.61 279.65 328.02 280.65 327.4 281.65 326.78 282.66 326.14 283.66 325.48 284.66 324.8 285.66 324.11 286.67 323.4 287.67 322.66 288.67 321.91 289.67 321.13 290.68 320.34 291.68 319.51 292.68 318.66 293.68 317.78 294.69 316.87 295.69 315.91 296.69 314.93 297.69 313.9 298.7 312.82 299.7 311.7 300.7 310.52 301.71 309.3 302.71 308.01 303.71 306.66 304.71 305.25 305.72 303.78 306.72 302.23 307.72 300.62 308.72 298.93 309.73 297.17 310.73 295.34 311.73 293.44 312.73 291.47 313.74 289.45 314.74 287.36 315.74 285.23 316.74 283.05 317.75 280.84 318.75 278.61 319.75 276.38 320.75 274.15 321.76 271.95 322.76 269.79 323.76 267.69 324.76 265.66 325.77 263.74 326.77 261.94 327.77 260.27 328.77 258.75 329.78 257.38 330.78 256.18 331.78 255.15 332.78 254.29 333.79 253.6 334.79 253.07 335.79 252.71 336.79 252.49 337.8 252.4 338.8 252.4 339.8 252.49 340.81 252.71 341.81 253.09 342.81 253.64 343.81 254.37 344.82 255.28 345.82 256.37 346.82 257.64 347.82 259.07 348.83 260.65 349.83 262.38 350.83 264.23 351.83 266.19 352.84 268.23 353.84 270.35 354.84 272.52 355.84 274.72 356.85 276.95 357.85 279.17 358.85 281.39 359.85 283.58 360.86 285.74 361.86 287.85 362.86 289.91 363.86 291.91 364.87 293.85 365.87 295.73 366.87 297.54 367.87 299.28 368.88 300.96 369.88 302.58 370.88 304.12 371.88 305.61 372.89 307.03 373.89 308.4 374.89 309.71 375.89 310.96 376.9 312.17 377.9 313.33 378.9 314.44 379.91 315.51 380.91 316.54 381.91 317.53 382.91 318.48 383.92 319.4 384.92 320.29 385.92 321.14 386.92 321.96 387.93 322.75 388.93 323.51 389.93 324.25 390.93 324.96 391.94 325.64 392.94 326.3 393.94 326.94 394.94 327.56 395.95 328.15 396.95 328.73 397.95 329.29 398.95 329.84 399.96 330.37 400.96 330.88 401.96 331.38 402.96 331.87 403.97 332.34 404.97 332.8 405.97 333.24 406.97 333.68 407.98 334.1 408.98 334.51 409.98 334.91 410.98 335.3 411.99 335.67 412.99 336.04 413.99 336.4 414.99 336.75 416 337.09 417 337.43" fill="none" stroke="#ff0000" stroke-width="1.7" stroke-linejoin="round" stroke-linecap="butt"/>
<g fill="#ff0000"><circle cx="260.6" cy="336.43" r="2.15"/><circle cx="299.7" cy="313.21" r="2.15"/><circle cx="319.25" cy="283.06" r="2.15"/><circle cx="329.03" cy="265.11" r="2.15"/><circle cx="333.91" cy="260.56" r="2.15"/><circle cx="338.8" cy="256.73" r="2.15"/><circle cx="343.69" cy="259.6" r="2.15"/><circle cx="348.57" cy="267.02" r="2.15"/><circle cx="358.35" cy="285.21" r="2.15"/><circle cx="377.9" cy="314.65" r="2.15"/><circle cx="417" cy="336.91" r="2.15"/></g>
<path d="M260.6 331.16V336.91M258.9 331.16H262.3M258.9 336.91H262.3" stroke="#0000ff" stroke-width="0.9" stroke-opacity="0.42" fill="none"/>
<path d="M299.7 291.19V296.94M298 291.19H301.4M298 296.94H301.4" stroke="#0000ff" stroke-width="0.9" stroke-opacity="0.42" fill="none"/>
<g fill="#0000ff"><circle cx="260.6" cy="334.03" r="2.15"/><circle cx="299.7" cy="294.06" r="2.15"/><circle cx="319.25" cy="239.02" r="2.15"/><circle cx="329.03" cy="220.11" r="2.15"/><circle cx="333.91" cy="214.85" r="2.15"/><circle cx="338.8" cy="213.17" r="2.15"/><circle cx="343.69" cy="218.91" r="2.15"/><circle cx="348.57" cy="228.01" r="2.15"/><circle cx="358.35" cy="248.35" r="2.15"/><circle cx="377.9" cy="298.61" r="2.15"/><circle cx="417" cy="335.23" r="2.15"/></g>
<path d="M260.6 502.57 261.6 502.01 262.61 501.44 263.61 500.86 264.61 500.26 265.61 499.66 266.62 499.05 267.62 498.43 268.62 497.81 269.62 497.17 270.63 496.53 271.63 495.88 272.63 495.22 273.63 494.55 274.64 493.88 275.64 493.19 276.64 492.48 277.64 491.77 278.65 491.03 279.65 490.28 280.65 489.5 281.65 488.71 282.66 487.89 283.66 487.05 284.66 486.18 285.66 485.3 286.67 484.38 287.67 483.44 288.67 482.47 289.67 481.47 290.68 480.45 291.68 479.39 292.68 478.3 293.68 477.18 294.69 476.02 295.69 474.82 296.69 473.59 297.69 472.31 298.7 470.98 299.7 469.61 300.7 468.19 301.71 466.71 302.71 465.16 303.71 463.55 304.71 461.87 305.72 460.11 306.72 458.26 307.72 456.32 308.72 454.29 309.73 452.18 310.73 449.98 311.73 447.7 312.73 445.35 313.74 442.92 314.74 440.43 315.74 437.88 316.74 435.29 317.75 432.67 318.75 430.05 319.75 427.42 320.75 424.82 321.76 422.25 322.76 419.72 323.76 417.25 324.76 414.85 325.77 412.53 326.77 410.32 327.77 408.23 328.77 406.27 329.78 404.45 330.78 402.79 331.78 401.3 332.78 399.99 333.79 398.88 334.79 397.98 335.79 397.29 336.79 396.83 337.8 396.61 338.8 396.62 339.8 396.84 340.81 397.26 341.81 397.87 342.81 398.66 343.81 399.63 344.82 400.76 345.82 402.06 346.82 403.49 347.82 405.07 348.83 406.76 349.83 408.57 350.83 410.47 351.83 412.46 352.84 414.52 353.84 416.63 354.84 418.8 355.84 421.01 356.85 423.24 357.85 425.48 358.85 427.72 359.85 429.97 360.86 432.19 361.86 434.4 362.86 436.57 363.86 438.71 364.87 440.81 365.87 442.86 366.87 444.87 367.87 446.82 368.88 448.72 369.88 450.58 370.88 452.38 371.88 454.14 372.89 455.85 373.89 457.51 374.89 459.13 375.89 460.71 376.9 462.25 377.9 463.76 378.9 465.22 379.91 466.65 380.91 468.05 381.91 469.41 382.91 470.75 383.92 472.05 384.92 473.32 385.92 474.56 386.92 475.77 387.93 476.94 388.93 478.09 389.93 479.2 390.93 480.28 391.94 481.34 392.94 482.37 393.94 483.38 394.94 484.37 395.95 485.33 396.95 486.27 397.95 487.2 398.95 488.11 399.96 489 400.96 489.88 401.96 490.74 402.96 491.59 403.97 492.42 404.97 493.23 405.97 494.04 406.97 494.83 407.98 495.6 408.98 496.36 409.98 497.11 410.98 497.85 411.99 498.57 412.99 499.28 413.99 499.98 414.99 500.66 416 501.33 417 501.99" fill="none" stroke="#0000ff" stroke-width="1.7" stroke-linejoin="round" stroke-linecap="butt"/>
<path d="M260.6 518.49 261.6 518.12 262.61 517.74 263.61 517.36 264.61 516.97 265.61 516.56 266.62 516.16 267.62 515.74 268.62 515.31 269.62 514.88 270.63 514.43 271.63 513.98 272.63 513.52 273.63 513.05 274.64 512.56 275.64 512.07 276.64 511.56 277.64 511.03 278.65 510.5 279.65 509.94 280.65 509.37 281.65 508.77 282.66 508.16 283.66 507.52 284.66 506.87 285.66 506.19 286.67 505.49 287.67 504.76 288.67 504.02 289.67 503.24 290.68 502.44 291.68 501.61 292.68 500.75 293.68 499.86 294.69 498.94 295.69 497.98 296.69 496.99 297.69 495.95 298.7 494.88 299.7 493.76 300.7 492.6 301.71 491.39 302.71 490.14 303.71 488.84 304.71 487.5 305.72 486.1 306.72 484.66 307.72 483.18 308.72 481.64 309.73 480.06 310.73 478.43 311.73 476.76 312.73 475.04 313.74 473.28 314.74 471.48 315.74 469.65 316.74 467.79 317.75 465.91 318.75 464 319.75 462.09 320.75 460.18 321.76 458.28 322.76 456.41 323.76 454.58 324.76 452.81 325.77 451.12 326.77 449.53 327.77 448.05 328.77 446.69 329.78 445.46 330.78 444.37 331.78 443.42 332.78 442.62 333.79 441.96 334.79 441.46 335.79 441.1 336.79 440.89 337.8 440.79 338.8 440.79 339.8 440.9 340.81 441.14 341.81 441.52 342.81 442.05 343.81 442.74 344.82 443.58 345.82 444.57 346.82 445.71 347.82 446.99 348.83 448.39 349.83 449.9 350.83 451.52 351.83 453.23 352.84 455.01 353.84 456.85 354.84 458.74 355.84 460.67 356.85 462.61 357.85 464.56 358.85 466.5 359.85 468.43 360.86 470.33 361.86 472.19 362.86 474.01 363.86 475.78 364.87 477.5 365.87 479.17 366.87 480.77 367.87 482.31 368.88 483.79 369.88 485.21 370.88 486.57 371.88 487.87 372.89 489.12 373.89 490.31 374.89 491.45 375.89 492.55 376.9 493.6 377.9 494.61 378.9 495.59 379.91 496.53 380.91 497.44 381.91 498.33 382.91 499.19 383.92 500.03 384.92 500.84 385.92 501.64 386.92 502.42 387.93 503.18 388.93 503.93 389.93 504.66 390.93 505.38 391.94 506.09 392.94 506.77 393.94 507.44 394.94 508.1 395.95 508.73 396.95 509.35 397.95 509.95 398.95 510.52 399.96 511.08 400.96 511.63 401.96 512.16 402.96 512.67 403.97 513.17 404.97 513.65 405.97 514.13 406.97 514.59 407.98 515.04 408.98 515.48 409.98 515.91 410.98 516.33 411.99 516.74 412.99 517.14 413.99 517.53 414.99 517.92 416 518.29 417 518.66" fill="none" stroke="#ff0000" stroke-width="1.7" stroke-linejoin="round" stroke-linecap="butt"/>
<g fill="#ff0000"><circle cx="260.6" cy="517.61" r="2.15"/><circle cx="299.7" cy="494.34" r="2.15"/><circle cx="319.25" cy="464.12" r="2.15"/><circle cx="329.03" cy="446.14" r="2.15"/><circle cx="333.91" cy="441.58" r="2.15"/><circle cx="338.8" cy="437.74" r="2.15"/><circle cx="343.69" cy="440.62" r="2.15"/><circle cx="348.57" cy="448.06" r="2.15"/><circle cx="358.35" cy="466.28" r="2.15"/><circle cx="377.9" cy="495.78" r="2.15"/><circle cx="417" cy="518.09" r="2.15"/></g>
<path d="M260.6 512.33V518.09M258.9 512.33H262.3M258.9 518.09H262.3" stroke="#0000ff" stroke-width="0.9" stroke-opacity="0.42" fill="none"/>
<path d="M299.7 472.28V478.03M298 472.28H301.4M298 478.03H301.4" stroke="#0000ff" stroke-width="0.9" stroke-opacity="0.42" fill="none"/>
<g fill="#0000ff"><circle cx="260.6" cy="515.21" r="2.15"/><circle cx="299.7" cy="475.16" r="2.15"/><circle cx="319.25" cy="419.99" r="2.15"/><circle cx="329.03" cy="401.05" r="2.15"/><circle cx="333.91" cy="395.77" r="2.15"/><circle cx="338.8" cy="394.09" r="2.15"/><circle cx="343.69" cy="399.85" r="2.15"/><circle cx="348.57" cy="408.96" r="2.15"/><circle cx="358.35" cy="429.35" r="2.15"/><circle cx="377.9" cy="479.71" r="2.15"/><circle cx="417" cy="516.41" r="2.15"/></g>
<g fill="#ff0000"><circle cx="260.6" cy="687.41" r="2.15"/><circle cx="299.7" cy="667.49" r="2.15"/><circle cx="319.25" cy="641.23" r="2.15"/><circle cx="329.03" cy="619.01" r="2.15"/><circle cx="333.91" cy="609.2" r="2.15"/><circle cx="338.8" cy="605.44" r="2.15"/><circle cx="343.69" cy="625.07" r="2.15"/><circle cx="348.57" cy="646.42" r="2.15"/><circle cx="358.35" cy="672.11" r="2.15"/></g>
<g fill="#0000ff"><circle cx="260.6" cy="684.81" r="2.15"/><circle cx="299.7" cy="664.89" r="2.15"/><circle cx="319.25" cy="630.84" r="2.15"/><circle cx="329.03" cy="608.04" r="2.15"/><circle cx="333.91" cy="597.07" r="2.15"/><circle cx="338.8" cy="598.23" r="2.15"/><circle cx="343.69" cy="613.24" r="2.15"/><circle cx="348.57" cy="631.13" r="2.15"/><circle cx="358.35" cy="663.16" r="2.15"/><circle cx="377.9" cy="694.04" r="2.15"/><circle cx="417" cy="706.45" r="2.15"/></g>
<path d="M260.5 681.67 261.51 681.16 262.52 680.63 263.54 680.1 264.55 679.56 265.56 679.01 266.57 678.44 267.59 677.87 268.6 677.29 269.61 676.7 270.62 676.11 271.63 675.5 272.65 674.89 273.66 674.26 274.67 673.63 275.68 672.99 276.69 672.33 277.71 671.67 278.72 670.99 279.73 670.29 280.74 669.59 281.76 668.87 282.77 668.13 283.78 667.38 284.79 666.62 285.8 665.85 286.82 665.06 287.83 664.25 288.84 663.44 289.85 662.6 290.86 661.76 291.88 660.89 292.89 660 293.9 659.09 294.91 658.15 295.93 657.18 296.94 656.17 297.95 655.13 298.96 654.04 299.97 652.91 300.99 651.73 302 650.49 303.01 649.18 304.02 647.8 305.04 646.35 306.05 644.82 307.06 643.21 308.07 641.52 309.08 639.74 310.1 637.88 311.11 635.94 312.12 633.91 313.13 631.82 314.14 629.65 315.16 627.41 316.17 625.12 317.18 622.79 318.19 620.42 319.21 618.02 320.22 615.61 321.23 613.21 322.24 610.82 323.25 608.47 324.27 606.18 325.28 603.95 326.29 601.81 327.3 599.77 328.31 597.85 329.33 596.05 330.34 594.4 331.35 592.91 332.36 591.59 333.38 590.43 334.39 589.46 335.4 588.68" fill="none" stroke="#0000ff" stroke-width="1.7" stroke-linejoin="round" stroke-linecap="butt"/>
<path d="M338.7 604.98 339.7 605.35 340.7 605.88 341.7 606.58 342.71 607.44 343.71 608.45 344.71 609.61 345.71 610.92 346.71 612.37 347.71 613.94 348.71 615.64 349.71 617.45 350.72 619.35 351.72 621.35 352.72 623.41 353.72 625.55 354.72 627.73 355.72 629.96 356.72 632.22 357.72 634.5 358.73 636.79 359.73 639.08 360.73 641.36 361.73 643.63 362.73 645.87 363.73 648.08 364.73 650.25 365.73 652.38 366.74 654.46 367.74 656.49 368.74 658.46 369.74 660.37 370.74 662.21 371.74 664 372.74 665.71 373.74 667.36 374.75 668.95 375.75 670.48 376.75 671.94 377.75 673.35 378.75 674.71 379.75 676.02 380.75 677.27 381.76 678.48 382.76 679.64 383.76 680.76 384.76 681.84 385.76 682.88 386.76 683.88 387.76 684.85 388.76 685.78 389.77 686.68 390.77 687.54 391.77 688.38 392.77 689.19 393.77 689.97 394.77 690.73 395.77 691.46 396.77 692.16 397.78 692.85 398.78 693.51 399.78 694.15 400.78 694.77 401.78 695.37 402.78 695.95 403.78 696.51 404.78 697.06 405.79 697.59 406.79 698.1 407.79 698.59 408.79 699.07 409.79 699.53 410.79 699.98 411.79 700.42 412.79 700.84 413.8 701.25 414.8 701.65 415.8 702.03 416.8 702.4" fill="none" stroke="#0000ff" stroke-width="1.7" stroke-linejoin="round" stroke-linecap="butt"/>
<path d="M260.5 689.78 261.5 689.45 262.51 689.11 263.51 688.77 264.52 688.41 265.52 688.05 266.52 687.68 267.53 687.3 268.53 686.91 269.54 686.52 270.54 686.12 271.54 685.71 272.55 685.3 273.55 684.87 274.56 684.44 275.56 683.99 276.56 683.54 277.57 683.08 278.57 682.6 279.58 682.12 280.58 681.62 281.59 681.11 282.59 680.59 283.59 680.05 284.6 679.49 285.6 678.93 286.61 678.34 287.61 677.74 288.61 677.11 289.62 676.47 290.62 675.8 291.63 675.11 292.63 674.39 293.63 673.65 294.64 672.86 295.64 672.05 296.65 671.19 297.65 670.29 298.65 669.34 299.66 668.35 300.66 667.3 301.67 666.19 302.67 665.02 303.67 663.78 304.68 662.48 305.68 661.1 306.69 659.64 307.69 658.11 308.69 656.5 309.7 654.82 310.7 653.06 311.71 651.23 312.71 649.34 313.71 647.38 314.72 645.36 315.72 643.28 316.73 641.15 317.73 638.98 318.74 636.78 319.74 634.55 320.74 632.31 321.75 630.08 322.75 627.85 323.76 625.66 324.76 623.51 325.76 621.41 326.77 619.39 327.77 617.46 328.78 615.63 329.78 613.92 330.78 612.34 331.79 610.9 332.79 609.62 333.8 608.51 334.8 607.57" fill="none" stroke="#ff0000" stroke-width="1.7" stroke-linejoin="round" stroke-linecap="butt"/>
<path d="M338.7 624.86 339.7 625 340.7 625.3 341.7 625.77 342.71 626.41 343.71 627.23 344.71 628.24 345.71 629.45 346.71 630.86 347.71 632.46 348.71 634.26 349.71 636.23 350.72 638.36 351.72 640.62 352.72 642.98 353.72 645.42 354.72 647.92 355.72 650.43 356.72 652.95 357.72 655.45 358.73 657.93 359.73 660.36 360.73 662.73 361.73 665.05 362.73 667.29 363.73 669.46 364.73 671.55 365.73 673.57 366.74 675.5 367.74 677.34 368.74 679.1 369.74 680.78 370.74 682.37 371.74 683.87 372.74 685.3 373.74 686.65 374.75 687.92 375.75 689.13 376.75 690.27 377.75 691.36 378.75 692.39 379.75 693.37 380.75 694.3 381.76 695.19 382.76 696.04 383.76 696.85 384.76 697.62 385.76 698.35 386.76 699.05 387.76 699.72 388.76 700.35 389.77 700.95 390.77 701.53 391.77 702.08 392.77 702.61 393.77 703.12 394.77 703.61 395.77 704.07 396.77 704.52 397.78 704.96 398.78 705.38 399.78 705.79 400.78 706.18 401.78 706.56 402.78 706.93 403.78 707.29 404.78 707.64 405.79 707.97 406.79 708.3 407.79 708.62 408.79 708.93 409.79 709.23 410.79 709.52 411.79 709.8 412.79 710.08 413.8 710.34 414.8 710.6 415.8 710.85 416.8 711.1" fill="none" stroke="#ff0000" stroke-width="1.7" stroke-linejoin="round" stroke-linecap="butt"/>
<g fill="#ff0000"><circle cx="260.6" cy="869.3" r="2.15"/><circle cx="299.7" cy="849.46" r="2.15"/><circle cx="319.25" cy="823.29" r="2.15"/><circle cx="329.03" cy="801.14" r="2.15"/><circle cx="333.91" cy="791.36" r="2.15"/><circle cx="338.8" cy="787.62" r="2.15"/><circle cx="343.69" cy="807.18" r="2.15"/><circle cx="348.57" cy="828.46" r="2.15"/><circle cx="358.35" cy="854.06" r="2.15"/></g>
<g fill="#0000ff"><circle cx="260.6" cy="866.71" r="2.15"/><circle cx="299.7" cy="846.87" r="2.15"/><circle cx="319.25" cy="812.93" r="2.15"/><circle cx="329.03" cy="790.21" r="2.15"/><circle cx="333.91" cy="779.28" r="2.15"/><circle cx="338.8" cy="780.43" r="2.15"/><circle cx="343.69" cy="795.39" r="2.15"/><circle cx="348.57" cy="813.22" r="2.15"/><circle cx="358.35" cy="845.14" r="2.15"/><circle cx="377.9" cy="875.92" r="2.15"/><circle cx="417" cy="888.28" r="2.15"/></g>
<path d="M260.5 866.73 261.5 866.35 262.51 865.97 263.51 865.57 264.52 865.16 265.52 864.75 266.52 864.32 267.53 863.89 268.53 863.45 269.54 863 270.54 862.55 271.54 862.09 272.55 861.61 273.55 861.13 274.56 860.64 275.56 860.14 276.56 859.63 277.57 859.11 278.57 858.58 279.58 858.03 280.58 857.47 281.59 856.9 282.59 856.31 283.59 855.7 284.6 855.08 285.6 854.44 286.61 853.78 287.61 853.09 288.61 852.39 289.62 851.66 290.62 850.91 291.63 850.13 292.63 849.32 293.63 848.48 294.64 847.61 295.64 846.7 296.65 845.76 297.65 844.77 298.65 843.74 299.66 842.67 300.66 841.55 301.67 840.38 302.67 839.15 303.67 837.87 304.68 836.53 305.68 835.13 306.69 833.66 307.69 832.12 308.69 830.52 309.7 828.84 310.7 827.08 311.71 825.25 312.71 823.34 313.71 821.34 314.72 819.27 315.72 817.12 316.73 814.89 317.73 812.6 318.74 810.24 319.74 807.83 320.74 805.37 321.75 802.9 322.75 800.43 323.76 798 324.76 795.66 325.76 793.45 326.77 791.42 327.77 789.63 328.78 788.08 329.78 786.8 330.78 785.74 331.79 784.83 332.79 783.94 333.8 782.91 334.8 781.54" fill="none" stroke="#0000ff" stroke-width="1.7" stroke-linejoin="round" stroke-linecap="butt"/>
<path d="M339 796.56 340.01 796.66 341.02 796.96 342.03 797.45 343.04 798.14 344.05 799.02 345.06 800.08 346.07 801.32 347.08 802.72 348.09 804.27 349.1 805.96 350.11 807.77 351.12 809.7 352.14 811.72 353.15 813.82 354.16 815.99 355.17 818.21 356.18 820.47 357.19 822.75 358.2 825.05 359.21 827.34 360.22 829.63 361.23 831.89 362.24 834.13 363.25 836.32 364.26 838.48 365.27 840.58 366.28 842.62 367.29 844.61 368.3 846.54 369.31 848.4 370.32 850.21 371.33 851.95 372.34 853.63 373.35 855.26 374.36 856.82 375.37 858.32 376.38 859.77 377.39 861.16 378.41 862.49 379.42 863.77 380.43 865 381.44 866.17 382.45 867.3 383.46 868.38 384.47 869.41 385.48 870.39 386.49 871.34 387.5 872.24 388.51 873.09 389.52 873.91 390.53 874.69 391.54 875.44 392.55 876.15 393.56 876.83 394.57 877.48 395.58 878.1 396.59 878.69 397.6 879.25 398.61 879.8 399.62 880.31 400.63 880.81 401.64 881.28 402.65 881.74 403.66 882.17 404.68 882.58 405.69 882.98 406.7 883.36 407.71 883.72 408.72 884.06 409.73 884.39 410.74 884.7 411.75 885 412.76 885.29 413.77 885.56 414.78 885.81 415.79 886.06 416.8 886.29" fill="none" stroke="#0000ff" stroke-width="1.7" stroke-linejoin="round" stroke-linecap="butt"/>
<path d="M260.5 872.5 261.5 872.16 262.51 871.82 263.51 871.46 264.52 871.09 265.52 870.72 266.52 870.33 267.53 869.93 268.53 869.53 269.54 869.11 270.54 868.68 271.54 868.23 272.55 867.78 273.55 867.31 274.56 866.83 275.56 866.34 276.56 865.83 277.57 865.31 278.57 864.77 279.58 864.22 280.58 863.66 281.59 863.08 282.59 862.48 283.59 861.87 284.6 861.23 285.6 860.58 286.61 859.92 287.61 859.23 288.61 858.52 289.62 857.79 290.62 857.03 291.63 856.25 292.63 855.45 293.63 854.61 294.64 853.75 295.64 852.86 296.65 851.93 297.65 850.96 298.65 849.96 299.66 848.91 300.66 847.82 301.67 846.68 302.67 845.49 303.67 844.24 304.68 842.93 305.68 841.55 306.69 840.11 307.69 838.59 308.69 837 309.7 835.32 310.7 833.56 311.71 831.71 312.71 829.77 313.71 827.74 314.72 825.62 315.72 823.42 316.73 821.14 317.73 818.8 318.74 816.4 319.74 813.97 320.74 811.52 321.75 809.09 322.75 806.7 323.76 804.41 324.76 802.24 325.76 800.22 326.77 798.38 327.77 796.73 328.78 795.25 329.78 793.95 330.78 792.81 331.79 791.81 332.79 790.96 333.8 790.24 334.8 789.65" fill="none" stroke="#ff0000" stroke-width="1.7" stroke-linejoin="round" stroke-linecap="butt"/>
<path d="M339 804.04 340.01 804.26 341.02 804.63 342.03 805.16 343.04 805.84 344.05 806.67 345.06 807.67 346.07 808.83 347.08 810.15 348.09 811.63 349.1 813.26 350.11 815.04 351.12 816.97 352.14 819.02 353.15 821.19 354.16 823.45 355.17 825.77 356.18 828.14 357.19 830.53 358.2 832.92 359.21 835.28 360.22 837.61 361.23 839.89 362.24 842.11 363.25 844.27 364.26 846.37 365.27 848.41 366.28 850.38 367.29 852.29 368.3 854.13 369.31 855.92 370.32 857.63 371.33 859.29 372.34 860.89 373.35 862.43 374.36 863.92 375.37 865.34 376.38 866.71 377.39 868.03 378.41 869.29 379.42 870.5 380.43 871.66 381.44 872.77 382.45 873.83 383.46 874.84 384.47 875.8 385.48 876.73 386.49 877.61 387.5 878.45 388.51 879.25 389.52 880.02 390.53 880.74 391.54 881.44 392.55 882.11 393.56 882.74 394.57 883.35 395.58 883.94 396.59 884.5 397.6 885.04 398.61 885.56 399.62 886.07 400.63 886.55 401.64 887.02 402.65 887.48 403.66 887.92 404.68 888.35 405.69 888.76 406.7 889.16 407.71 889.54 408.72 889.92 409.73 890.28 410.74 890.62 411.75 890.96 412.76 891.29 413.77 891.6 414.78 891.9 415.79 892.19 416.8 892.47" fill="none" stroke="#ff0000" stroke-width="1.7" stroke-linejoin="round" stroke-linecap="butt"/>
<g fill="#ff0000"><circle cx="260.6" cy="1058.44" r="2.15"/><circle cx="299.7" cy="1038.56" r="2.15"/><circle cx="319.25" cy="1012.33" r="2.15"/><circle cx="329.03" cy="990.14" r="2.15"/><circle cx="333.91" cy="980.34" r="2.15"/><circle cx="338.8" cy="976.6" r="2.15"/><circle cx="343.69" cy="996.19" r="2.15"/><circle cx="348.57" cy="1017.52" r="2.15"/><circle cx="358.35" cy="1043.17" r="2.15"/></g>
<g fill="#0000ff"><circle cx="260.6" cy="1055.85" r="2.15"/><circle cx="299.7" cy="1035.97" r="2.15"/><circle cx="319.25" cy="1001.96" r="2.15"/><circle cx="329.03" cy="979.19" r="2.15"/><circle cx="333.91" cy="968.24" r="2.15"/><circle cx="338.8" cy="969.39" r="2.15"/><circle cx="343.69" cy="984.38" r="2.15"/><circle cx="348.57" cy="1002.25" r="2.15"/><circle cx="358.35" cy="1034.24" r="2.15"/><circle cx="377.9" cy="1065.07" r="2.15"/><circle cx="417" cy="1077.47" r="2.15"/></g>
<path d="M260.5 1052.71 261.51 1052.2 262.52 1051.68 263.54 1051.15 264.55 1050.61 265.56 1050.06 266.57 1049.49 267.59 1048.92 268.6 1048.34 269.61 1047.76 270.62 1047.16 271.63 1046.56 272.65 1045.94 273.66 1045.32 274.67 1044.69 275.68 1044.05 276.69 1043.39 277.71 1042.73 278.72 1042.05 279.73 1041.36 280.74 1040.65 281.76 1039.93 282.77 1039.2 283.78 1038.45 284.79 1037.69 285.8 1036.91 286.82 1036.13 287.83 1035.32 288.84 1034.51 289.85 1033.68 290.86 1032.83 291.88 1031.96 292.89 1031.08 293.9 1030.17 294.91 1029.23 295.93 1028.26 296.94 1027.25 297.95 1026.21 298.96 1025.13 299.97 1024 300.99 1022.82 302 1021.58 303.01 1020.27 304.02 1018.9 305.04 1017.45 306.05 1015.92 307.06 1014.31 308.07 1012.62 309.08 1010.84 310.1 1008.99 311.11 1007.05 312.12 1005.03 313.13 1002.93 314.14 1000.77 315.16 998.54 316.17 996.25 317.18 993.92 318.19 991.55 319.21 989.15 320.22 986.75 321.23 984.35 322.24 981.97 323.25 979.62 324.27 977.33 325.28 975.1 326.29 972.97 327.3 970.93 328.31 969.01 329.33 967.22 330.34 965.57 331.35 964.08 332.36 962.76 333.38 961.61 334.39 960.64 335.4 959.86" fill="none" stroke="#0000ff" stroke-width="1.7" stroke-linejoin="round" stroke-linecap="butt"/>
<path d="M338.7 976.13 339.7 976.5 340.7 977.04 341.7 977.73 342.71 978.59 343.71 979.6 344.71 980.76 345.71 982.07 346.71 983.51 347.71 985.09 348.71 986.78 349.71 988.58 350.72 990.49 351.72 992.48 352.72 994.54 353.72 996.67 354.72 998.86 355.72 1001.08 356.72 1003.34 357.72 1005.61 358.73 1007.9 359.73 1010.19 360.73 1012.46 361.73 1014.73 362.73 1016.96 363.73 1019.17 364.73 1021.34 365.73 1023.46 366.74 1025.54 367.74 1027.57 368.74 1029.54 369.74 1031.44 370.74 1033.29 371.74 1035.07 372.74 1036.78 373.74 1038.43 374.75 1040.02 375.75 1041.54 376.75 1043 377.75 1044.41 378.75 1045.77 379.75 1047.07 380.75 1048.32 381.76 1049.53 382.76 1050.69 383.76 1051.81 384.76 1052.89 385.76 1053.92 386.76 1054.92 387.76 1055.89 388.76 1056.82 389.77 1057.72 390.77 1058.58 391.77 1059.42 392.77 1060.23 393.77 1061.01 394.77 1061.76 395.77 1062.49 396.77 1063.2 397.78 1063.88 398.78 1064.54 399.78 1065.18 400.78 1065.8 401.78 1066.4 402.78 1066.98 403.78 1067.54 404.78 1068.08 405.79 1068.61 406.79 1069.12 407.79 1069.61 408.79 1070.09 409.79 1070.56 410.79 1071.01 411.79 1071.44 412.79 1071.86 413.8 1072.27 414.8 1072.67 415.8 1073.05 416.8 1073.42" fill="none" stroke="#0000ff" stroke-width="1.7" stroke-linejoin="round" stroke-linecap="butt"/>
<path d="M260.5 1060.82 261.5 1060.49 262.51 1060.15 263.51 1059.8 264.52 1059.45 265.52 1059.09 266.52 1058.72 267.53 1058.34 268.53 1057.95 269.54 1057.56 270.54 1057.16 271.54 1056.75 272.55 1056.34 273.55 1055.91 274.56 1055.48 275.56 1055.04 276.56 1054.58 277.57 1054.12 278.57 1053.65 279.58 1053.16 280.58 1052.67 281.59 1052.16 282.59 1051.63 283.59 1051.1 284.6 1050.54 285.6 1049.98 286.61 1049.39 287.61 1048.79 288.61 1048.17 289.62 1047.52 290.62 1046.86 291.63 1046.17 292.63 1045.45 293.63 1044.7 294.64 1043.92 295.64 1043.11 296.65 1042.25 297.65 1041.35 298.65 1040.41 299.66 1039.41 300.66 1038.37 301.67 1037.26 302.67 1036.09 303.67 1034.86 304.68 1033.55 305.68 1032.17 306.69 1030.72 307.69 1029.19 308.69 1027.58 309.7 1025.9 310.7 1024.15 311.71 1022.32 312.71 1020.43 313.71 1018.47 314.72 1016.45 315.72 1014.38 316.73 1012.25 317.73 1010.09 318.74 1007.89 319.74 1005.66 320.74 1003.43 321.75 1001.19 322.75 998.97 323.76 996.78 324.76 994.63 325.76 992.54 326.77 990.52 327.77 988.59 328.78 986.77 329.78 985.06 330.78 983.48 331.79 982.05 332.79 980.77 333.8 979.66 334.8 978.72" fill="none" stroke="#ff0000" stroke-width="1.7" stroke-linejoin="round" stroke-linecap="butt"/>
<path d="M338.7 995.99 339.7 996.13 340.7 996.43 341.7 996.89 342.71 997.53 343.71 998.35 344.71 999.36 345.71 1000.57 346.71 1001.98 347.71 1003.58 348.71 1005.37 349.71 1007.34 350.72 1009.47 351.72 1011.72 352.72 1014.08 353.72 1016.52 354.72 1019.01 355.72 1021.52 356.72 1024.04 357.72 1026.54 358.73 1029.01 359.73 1031.43 360.73 1033.81 361.73 1036.12 362.73 1038.36 363.73 1040.53 364.73 1042.61 365.73 1044.62 366.74 1046.55 367.74 1048.39 368.74 1050.15 369.74 1051.82 370.74 1053.41 371.74 1054.92 372.74 1056.34 373.74 1057.69 374.75 1058.96 375.75 1060.17 376.75 1061.31 377.75 1062.39 378.75 1063.42 379.75 1064.4 380.75 1065.33 381.76 1066.22 382.76 1067.07 383.76 1067.87 384.76 1068.64 385.76 1069.37 386.76 1070.07 387.76 1070.74 388.76 1071.37 389.77 1071.97 390.77 1072.55 391.77 1073.1 392.77 1073.63 393.77 1074.14 394.77 1074.62 395.77 1075.09 396.77 1075.54 397.78 1075.97 398.78 1076.39 399.78 1076.8 400.78 1077.19 401.78 1077.57 402.78 1077.94 403.78 1078.3 404.78 1078.65 405.79 1078.98 406.79 1079.31 407.79 1079.63 408.79 1079.94 409.79 1080.24 410.79 1080.53 411.79 1080.81 412.79 1081.08 413.8 1081.35 414.8 1081.61 415.8 1081.86 416.8 1082.1" fill="none" stroke="#ff0000" stroke-width="1.7" stroke-linejoin="round" stroke-linecap="butt"/>
<g fill="#7f2b93"><circle cx="481.2" cy="22.21" r="2.15"/><circle cx="520.3" cy="24.87" r="2.15"/><circle cx="539.85" cy="51.29" r="2.15"/><circle cx="549.62" cy="95.03" r="2.15"/><circle cx="554.51" cy="123.66" r="2.15"/><circle cx="559.4" cy="147.86" r="2.15"/><circle cx="564.29" cy="119.67" r="2.15"/><circle cx="569.17" cy="96.14" r="2.15"/><circle cx="578.95" cy="60.17" r="2.15"/><circle cx="598.5" cy="31.09" r="2.15"/><circle cx="637.6" cy="23.76" r="2.15"/></g>
<path d="M520.3 68.61V86.37M518.6 68.61H522M518.6 86.37H522" stroke="#6aab2b" stroke-width="0.9" stroke-opacity="0.42" fill="none"/>
<path d="M539.85 105.46V113.01M538.15 105.46H541.55M538.15 113.01H541.55" stroke="#6aab2b" stroke-width="0.9" stroke-opacity="0.42" fill="none"/>
<path d="M549.62 123.66V126.77M547.92 123.66H551.33M547.92 126.77H551.33" stroke="#6aab2b" stroke-width="0.9" stroke-opacity="0.42" fill="none"/>
<path d="M569.17 140.09V143.2M567.47 140.09H570.88M567.47 143.2H570.88" stroke="#6aab2b" stroke-width="0.9" stroke-opacity="0.42" fill="none"/>
<path d="M578.95 114.78V122.33M577.25 114.78H580.65M577.25 122.33H580.65" stroke="#6aab2b" stroke-width="0.9" stroke-opacity="0.42" fill="none"/>
<path d="M598.5 72.16V88.59M596.8 72.16H600.2M596.8 88.59H600.2" stroke="#6aab2b" stroke-width="0.9" stroke-opacity="0.42" fill="none"/>
<g fill="#6aab2b"><circle cx="520.3" cy="77.49" r="2.15"/><circle cx="539.85" cy="109.23" r="2.15"/><circle cx="549.62" cy="125.22" r="2.15"/><circle cx="554.51" cy="134.54" r="2.15"/><circle cx="559.4" cy="148.08" r="2.15"/><circle cx="564.29" cy="150.53" r="2.15"/><circle cx="569.17" cy="141.65" r="2.15"/><circle cx="578.95" cy="118.56" r="2.15"/><circle cx="598.5" cy="80.37" r="2.15"/></g>
<path d="M481.2 21.01 482.2 21.02 483.2 21.03 484.2 21.04 485.21 21.05 486.21 21.06 487.21 21.08 488.21 21.09 489.21 21.12 490.21 21.14 491.21 21.17 492.21 21.2 493.22 21.25 494.22 21.29 495.22 21.35 496.22 21.42 497.22 21.51 498.22 21.61 499.22 21.72 500.22 21.86 501.23 22.02 502.23 22.2 503.23 22.42 504.23 22.67 505.23 22.96 506.23 23.28 507.23 23.65 508.23 24.07 509.24 24.54 510.24 25.06 511.24 25.64 512.24 26.28 513.24 26.98 514.24 27.75 515.24 28.59 516.24 29.49 517.25 30.47 518.25 31.52 519.25 32.65 520.25 33.86 521.25 35.16 522.25 36.54 523.25 38.02 524.26 39.59 525.26 41.26 526.26 43.02 527.26 44.88 528.26 46.84 529.26 48.9 530.26 51.06 531.26 53.31 532.27 55.65 533.27 58.09 534.27 60.6 535.27 63.19 536.27 65.84 537.27 68.56 538.27 71.32 539.27 74.12 540.28 76.95 541.28 79.8 542.28 82.65 543.28 85.49 544.28 88.31 545.28 91.09 546.28 93.83 547.28 96.5 548.29 99.09 549.29 101.59 550.29 103.99 551.29 106.26 552.29 108.4 553.29 110.4 554.29 112.23 555.29 113.9 556.3 115.39 557.3 116.69 558.3 117.8 559.3 118.72" fill="none" stroke="#7f2b93" stroke-width="1.7" stroke-linejoin="round" stroke-linecap="butt"/>
<path d="M559.3 118.6 560.3 117.43 561.3 116.01 562.3 114.36 563.31 112.52 564.31 110.53 565.31 108.43 566.31 106.24 567.31 103.96 568.31 101.58 569.31 99.1 570.31 96.5 571.32 93.8 572.32 90.99 573.32 88.07 574.32 85.08 575.32 82.01 576.32 78.9 577.32 75.76 578.32 72.62 579.33 69.5 580.33 66.42 581.33 63.4 582.33 60.46 583.33 57.61 584.33 54.86 585.33 52.23 586.33 49.73 587.34 47.36 588.34 45.13 589.34 43.03 590.34 41.07 591.34 39.25 592.34 37.56 593.34 36.01 594.34 34.57 595.35 33.25 596.35 32.05 597.35 30.94 598.35 29.93 599.35 29.02 600.35 28.19 601.35 27.43 602.36 26.74 603.36 26.12 604.36 25.56 605.36 25.06 606.36 24.6 607.36 24.18 608.36 23.81 609.36 23.48 610.37 23.17 611.37 22.9 612.37 22.66 613.37 22.43 614.37 22.24 615.37 22.06 616.37 21.9 617.37 21.75 618.38 21.62 619.38 21.5 620.38 21.4 621.38 21.3 622.38 21.22 623.38 21.14 624.38 21.07 625.38 21.01 626.39 20.96 627.39 20.91 628.39 20.86 629.39 20.82 630.39 20.78 631.39 20.75 632.39 20.72 633.39 20.69 634.4 20.66 635.4 20.64 636.4 20.62 637.4 20.6" fill="none" stroke="#7f2b93" stroke-width="1.7" stroke-linejoin="round" stroke-linecap="butt"/>
<path d="M481.2 34.95 482.2 35.54 483.2 36.14 484.2 36.77 485.21 37.41 486.21 38.07 487.21 38.75 488.21 39.45 489.21 40.17 490.21 40.91 491.21 41.66 492.21 42.44 493.22 43.24 494.22 44.06 495.22 44.91 496.22 45.77 497.22 46.66 498.22 47.58 499.22 48.53 500.22 49.5 501.23 50.49 502.23 51.52 503.23 52.58 504.23 53.68 505.23 54.81 506.23 55.98 507.23 57.19 508.23 58.45 509.24 59.74 510.24 61.09 511.24 62.48 512.24 63.92 513.24 65.4 514.24 66.93 515.24 68.51 516.24 70.12 517.25 71.78 518.25 73.47 519.25 75.19 520.25 76.95 521.25 78.74 522.25 80.55 523.25 82.39 524.26 84.24 525.26 86.12 526.26 88.01 527.26 89.9 528.26 91.81 529.26 93.71 530.26 95.61 531.26 97.5 532.27 99.38 533.27 101.23 534.27 103.07 535.27 104.88 536.27 106.65 537.27 108.38 538.27 110.07 539.27 111.7 540.28 113.27 541.28 114.77 542.28 116.2 543.28 117.55 544.28 118.82 545.28 120 546.28 121.07 547.28 122.02 548.29 122.81 549.29 123.42 550.29 123.8 551.29 123.9 552.29 123.71 553.29 123.24 554.29 122.52 555.29 121.66 556.3 120.81 557.3 120.14 558.3 119.8 559.3 119.91" fill="none" stroke="#6aab2b" stroke-width="1.7" stroke-linejoin="round" stroke-linecap="butt"/>
<path d="M559.3 119.93 560.3 119.97 561.3 120.31 562.3 120.9 563.31 121.63 564.31 122.4 565.31 123.06 566.31 123.54 567.31 123.77 568.31 123.76 569.31 123.55 570.31 123.18 571.32 122.69 572.32 122.12 573.32 121.46 574.32 120.71 575.32 119.88 576.32 118.94 577.32 117.89 578.32 116.73 579.33 115.44 580.33 114.05 581.33 112.53 582.33 110.92 583.33 109.21 584.33 107.42 585.33 105.56 586.33 103.65 587.34 101.69 588.34 99.71 589.34 97.7 590.34 95.69 591.34 93.68 592.34 91.67 593.34 89.69 594.34 87.73 595.35 85.79 596.35 83.89 597.35 82.03 598.35 80.2 599.35 78.41 600.35 76.66 601.35 74.95 602.36 73.28 603.36 71.65 604.36 70.06 605.36 68.51 606.36 67 607.36 65.52 608.36 64.08 609.36 62.68 610.37 61.31 611.37 59.96 612.37 58.65 613.37 57.37 614.37 56.11 615.37 54.88 616.37 53.67 617.37 52.48 618.38 51.32 619.38 50.19 620.38 49.08 621.38 48 622.38 46.94 623.38 45.92 624.38 44.91 625.38 43.94 626.39 42.99 627.39 42.07 628.39 41.18 629.39 40.31 630.39 39.46 631.39 38.64 632.39 37.84 633.39 37.07 634.4 36.31 635.4 35.58 636.4 34.86 637.4 34.16" fill="none" stroke="#6aab2b" stroke-width="1.7" stroke-linejoin="round" stroke-linecap="butt"/>
<g fill="#7f2b93"><circle cx="481.2" cy="203.12" r="2.15"/><circle cx="520.3" cy="204.84" r="2.15"/><circle cx="539.85" cy="221.93" r="2.15"/><circle cx="549.62" cy="250.22" r="2.15"/><circle cx="554.51" cy="268.74" r="2.15"/><circle cx="559.4" cy="284.4" r="2.15"/><circle cx="564.29" cy="266.16" r="2.15"/><circle cx="569.17" cy="250.94" r="2.15"/><circle cx="578.95" cy="227.67" r="2.15"/><circle cx="598.5" cy="208.86" r="2.15"/><circle cx="637.6" cy="204.12" r="2.15"/></g>
<path d="M520.3 233.13V244.62M518.6 233.13H522M518.6 244.62H522" stroke="#6aab2b" stroke-width="0.9" stroke-opacity="0.42" fill="none"/>
<path d="M539.85 256.97V261.85M538.15 256.97H541.55M538.15 261.85H541.55" stroke="#6aab2b" stroke-width="0.9" stroke-opacity="0.42" fill="none"/>
<path d="M549.62 268.74V270.75M547.92 268.74H551.33M547.92 270.75H551.33" stroke="#6aab2b" stroke-width="0.9" stroke-opacity="0.42" fill="none"/>
<path d="M569.17 279.37V281.38M567.47 279.37H570.88M567.47 281.38H570.88" stroke="#6aab2b" stroke-width="0.9" stroke-opacity="0.42" fill="none"/>
<path d="M578.95 263V267.88M577.25 263H580.65M577.25 267.88H580.65" stroke="#6aab2b" stroke-width="0.9" stroke-opacity="0.42" fill="none"/>
<path d="M598.5 235.43V246.05M596.8 235.43H600.2M596.8 246.05H600.2" stroke="#6aab2b" stroke-width="0.9" stroke-opacity="0.42" fill="none"/>
<g fill="#6aab2b"><circle cx="520.3" cy="238.87" r="2.15"/><circle cx="539.85" cy="259.41" r="2.15"/><circle cx="549.62" cy="269.75" r="2.15"/><circle cx="554.51" cy="275.78" r="2.15"/><circle cx="559.4" cy="284.54" r="2.15"/><circle cx="564.29" cy="286.12" r="2.15"/><circle cx="569.17" cy="280.37" r="2.15"/><circle cx="578.95" cy="265.44" r="2.15"/><circle cx="598.5" cy="240.74" r="2.15"/></g>
<path d="M481.2 202.59 482.21 202.59 483.22 202.6 484.23 202.6 485.24 202.61 486.25 202.62 487.25 202.64 488.26 202.66 489.27 202.68 490.28 202.71 491.29 202.74 492.3 202.78 493.31 202.83 494.32 202.88 495.33 202.94 496.34 203.01 497.35 203.09 498.35 203.19 499.36 203.29 500.37 203.41 501.38 203.53 502.39 203.68 503.4 203.84 504.41 204.01 505.42 204.21 506.43 204.42 507.44 204.65 508.45 204.91 509.45 205.19 510.46 205.5 511.47 205.83 512.48 206.2 513.49 206.6 514.5 207.04 515.51 207.51 516.52 208.02 517.53 208.58 518.54 209.18 519.55 209.83 520.55 210.53 521.56 211.28 522.57 212.08 523.58 212.94 524.59 213.85 525.6 214.82 526.61 215.85 527.62 216.94 528.63 218.08 529.64 219.29 530.65 220.55 531.65 221.87 532.66 223.24 533.67 224.67 534.68 226.15 535.69 227.68 536.7 229.26 537.71 230.89 538.72 232.56 539.73 234.28 540.74 236.03 541.75 237.83 542.75 239.68 543.76 241.56 544.77 243.49 545.78 245.45 546.79 247.46 547.8 249.51 548.81 251.6 549.82 253.71 550.83 255.85 551.84 257.99 552.85 260.13 553.85 262.25 554.86 264.32 555.87 266.33 556.88 268.25 557.89 270.08 558.9 271.8" fill="none" stroke="#7f2b93" stroke-width="1.7" stroke-linejoin="round" stroke-linecap="butt"/>
<path d="M559.9 271.8 560.91 270.08 561.92 268.24 562.93 266.32 563.94 264.31 564.95 262.24 565.95 260.13 566.96 257.99 567.97 255.85 568.98 253.71 569.99 251.6 571 249.52 572.01 247.47 573.02 245.46 574.03 243.49 575.04 241.56 576.05 239.68 577.05 237.83 578.06 236.03 579.07 234.28 580.08 232.56 581.09 230.89 582.1 229.26 583.11 227.68 584.12 226.15 585.13 224.67 586.14 223.24 587.15 221.87 588.15 220.55 589.16 219.29 590.17 218.08 591.18 216.94 592.19 215.85 593.2 214.82 594.21 213.85 595.22 212.94 596.23 212.08 597.24 211.28 598.25 210.53 599.25 209.83 600.26 209.18 601.27 208.58 602.28 208.02 603.29 207.51 604.3 207.04 605.31 206.6 606.32 206.2 607.33 205.83 608.34 205.5 609.35 205.19 610.35 204.91 611.36 204.65 612.37 204.42 613.38 204.21 614.39 204.01 615.4 203.84 616.41 203.68 617.42 203.53 618.43 203.41 619.44 203.29 620.45 203.19 621.45 203.09 622.46 203.01 623.47 202.94 624.48 202.88 625.49 202.83 626.5 202.78 627.51 202.74 628.52 202.71 629.53 202.68 630.54 202.66 631.55 202.64 632.55 202.62 633.56 202.61 634.57 202.6 635.58 202.6 636.59 202.59 637.6 202.59" fill="none" stroke="#7f2b93" stroke-width="1.7" stroke-linejoin="round" stroke-linecap="butt"/>
<path d="M481.2 319.79 482.21 319.55 483.22 319.3 484.23 319.05 485.24 318.79 486.25 318.53 487.25 318.27 488.26 318 489.27 317.73 490.28 317.45 491.29 317.17 492.3 316.88 493.31 316.59 494.32 316.29 495.33 315.99 496.34 315.69 497.35 315.38 498.35 315.06 499.36 314.74 500.37 314.41 501.38 314.07 502.39 313.73 503.4 313.38 504.41 313.03 505.42 312.67 506.43 312.3 507.44 311.92 508.45 311.53 509.45 311.14 510.46 310.73 511.47 310.32 512.48 309.9 513.49 309.47 514.5 309.02 515.51 308.57 516.52 308.1 517.53 307.62 518.54 307.12 519.55 306.61 520.55 306.09 521.56 305.55 522.57 304.98 523.58 304.4 524.59 303.8 525.6 303.18 526.61 302.53 527.62 301.87 528.63 301.17 529.64 300.45 530.65 299.71 531.65 298.93 532.66 298.13 533.67 297.31 534.68 296.45 535.69 295.57 536.7 294.66 537.71 293.73 538.72 292.78 539.73 291.8 540.74 290.79 541.75 289.77 542.75 288.73 543.76 287.68 544.77 286.61 545.78 285.53 546.79 284.44 547.8 283.34 548.81 282.25 549.82 281.15 550.83 280.06 551.84 278.98 552.85 277.91 553.85 276.84 554.86 275.8 555.87 274.77 556.88 273.76 557.89 272.77 558.9 271.8" fill="none" stroke="#6aab2b" stroke-width="1.7" stroke-linejoin="round" stroke-linecap="butt"/>
<path d="M559.9 271.8 560.91 272.77 561.92 273.76 562.93 274.77 563.94 275.8 564.95 276.84 565.95 277.9 566.96 278.98 567.97 280.06 568.98 281.15 569.99 282.25 571 283.34 572.01 284.44 573.02 285.53 574.03 286.61 575.04 287.68 576.05 288.73 577.05 289.77 578.06 290.79 579.07 291.8 580.08 292.77 581.09 293.73 582.1 294.66 583.11 295.57 584.12 296.45 585.13 297.3 586.14 298.13 587.15 298.93 588.15 299.7 589.16 300.45 590.17 301.17 591.18 301.87 592.19 302.53 593.2 303.18 594.21 303.8 595.22 304.4 596.23 304.99 597.24 305.55 598.25 306.09 599.25 306.62 600.26 307.13 601.27 307.62 602.28 308.1 603.29 308.57 604.3 309.02 605.31 309.47 606.32 309.9 607.33 310.32 608.34 310.73 609.35 311.14 610.35 311.53 611.36 311.92 612.37 312.3 613.38 312.67 614.39 313.03 615.4 313.38 616.41 313.73 617.42 314.07 618.43 314.41 619.44 314.74 620.45 315.06 621.45 315.37 622.46 315.69 623.47 315.99 624.48 316.29 625.49 316.59 626.5 316.88 627.51 317.17 628.52 317.45 629.53 317.72 630.54 318 631.55 318.27 632.55 318.53 633.56 318.79 634.57 319.05 635.58 319.3 636.59 319.55 637.6 319.79" fill="none" stroke="#6aab2b" stroke-width="1.7" stroke-linejoin="round" stroke-linecap="butt"/>
<g fill="#7f2b93"><circle cx="481.2" cy="384.41" r="2.15"/><circle cx="520.3" cy="387.06" r="2.15"/><circle cx="539.85" cy="413.41" r="2.15"/><circle cx="549.62" cy="457.02" r="2.15"/><circle cx="554.51" cy="485.58" r="2.15"/><circle cx="559.4" cy="509.71" r="2.15"/><circle cx="564.29" cy="481.59" r="2.15"/><circle cx="569.17" cy="458.13" r="2.15"/><circle cx="578.95" cy="422.26" r="2.15"/><circle cx="598.5" cy="393.26" r="2.15"/><circle cx="637.6" cy="385.96" r="2.15"/></g>
<path d="M520.3 430.68V448.39M518.6 430.68H522M518.6 448.39H522" stroke="#6aab2b" stroke-width="0.9" stroke-opacity="0.42" fill="none"/>
<path d="M539.85 467.43V474.95M538.15 467.43H541.55M538.15 474.95H541.55" stroke="#6aab2b" stroke-width="0.9" stroke-opacity="0.42" fill="none"/>
<path d="M549.62 485.58V488.68M547.92 485.58H551.33M547.92 488.68H551.33" stroke="#6aab2b" stroke-width="0.9" stroke-opacity="0.42" fill="none"/>
<path d="M569.17 501.96V505.06M567.47 501.96H570.88M567.47 505.06H570.88" stroke="#6aab2b" stroke-width="0.9" stroke-opacity="0.42" fill="none"/>
<path d="M578.95 476.72V484.25M577.25 476.72H580.65M577.25 484.25H580.65" stroke="#6aab2b" stroke-width="0.9" stroke-opacity="0.42" fill="none"/>
<path d="M598.5 434.22V450.6M596.8 434.22H600.2M596.8 450.6H600.2" stroke="#6aab2b" stroke-width="0.9" stroke-opacity="0.42" fill="none"/>
<g fill="#6aab2b"><circle cx="520.3" cy="439.53" r="2.15"/><circle cx="539.85" cy="471.19" r="2.15"/><circle cx="549.62" cy="487.13" r="2.15"/><circle cx="554.51" cy="496.43" r="2.15"/><circle cx="559.4" cy="509.93" r="2.15"/><circle cx="564.29" cy="512.37" r="2.15"/><circle cx="569.17" cy="503.51" r="2.15"/><circle cx="578.95" cy="480.49" r="2.15"/><circle cx="598.5" cy="442.41" r="2.15"/></g>
<path d="M481.2 383.62 482.2 383.65 483.2 383.68 484.2 383.71 485.21 383.74 486.21 383.78 487.21 383.82 488.21 383.86 489.21 383.9 490.21 383.95 491.21 384 492.21 384.06 493.22 384.13 494.22 384.21 495.22 384.29 496.22 384.39 497.22 384.5 498.22 384.63 499.22 384.78 500.22 384.95 501.23 385.15 502.23 385.37 503.23 385.63 504.23 385.93 505.23 386.27 506.23 386.65 507.23 387.08 508.23 387.57 509.24 388.11 510.24 388.71 511.24 389.38 512.24 390.12 513.24 390.92 514.24 391.8 515.24 392.75 516.24 393.77 517.25 394.88 518.25 396.06 519.25 397.32 520.25 398.66 521.25 400.08 522.25 401.58 523.25 403.16 524.26 404.82 525.26 406.56 526.26 408.38 527.26 410.27 528.26 412.24 529.26 414.29 530.26 416.41 531.26 418.6 532.27 420.86 533.27 423.2 534.27 425.6 535.27 428.07 536.27 430.6 537.27 433.19 538.27 435.83 539.27 438.52 540.28 441.25 541.28 444.01 542.28 446.78 543.28 449.56 544.28 452.33 545.28 455.08 546.28 457.79 547.28 460.45 548.29 463.06 549.29 465.58 550.29 468.01 551.29 470.34 552.29 472.55 553.29 474.62 554.29 476.55 555.29 478.33 556.3 479.94 557.3 481.38 558.3 482.65 559.3 483.74" fill="none" stroke="#7f2b93" stroke-width="1.7" stroke-linejoin="round" stroke-linecap="butt"/>
<path d="M559.3 483.8 560.3 482.18 561.3 480.8 562.3 479.54 563.31 478.29 564.31 476.91 565.31 475.33 566.31 473.52 567.31 471.49 568.31 469.27 569.31 466.89 570.31 464.39 571.32 461.79 572.32 459.13 573.32 456.39 574.32 453.61 575.32 450.79 576.32 447.93 577.32 445.06 578.32 442.17 579.33 439.28 580.33 436.4 581.33 433.54 582.33 430.71 583.33 427.92 584.33 425.18 585.33 422.51 586.33 419.91 587.34 417.4 588.34 414.97 589.34 412.65 590.34 410.43 591.34 408.32 592.34 406.33 593.34 404.45 594.34 402.69 595.35 401.04 596.35 399.51 597.35 398.08 598.35 396.77 599.35 395.56 600.35 394.45 601.35 393.43 602.36 392.5 603.36 391.65 604.36 390.87 605.36 390.17 606.36 389.53 607.36 388.94 608.36 388.41 609.36 387.92 610.37 387.48 611.37 387.08 612.37 386.72 613.37 386.39 614.37 386.09 615.37 385.82 616.37 385.58 617.37 385.36 618.38 385.16 619.38 384.98 620.38 384.82 621.38 384.67 622.38 384.54 623.38 384.43 624.38 384.32 625.38 384.22 626.39 384.14 627.39 384.06 628.39 383.99 629.39 383.93 630.39 383.87 631.39 383.82 632.39 383.77 633.39 383.73 634.4 383.69 635.4 383.66 636.4 383.63 637.4 383.6" fill="none" stroke="#7f2b93" stroke-width="1.7" stroke-linejoin="round" stroke-linecap="butt"/>
<path d="M481.2 425.78 482.2 426.19 483.2 426.62 484.2 427.06 485.21 427.52 486.21 427.99 487.21 428.47 488.21 428.97 489.21 429.49 490.21 430.02 491.21 430.56 492.21 431.13 493.22 431.71 494.22 432.32 495.22 432.94 496.22 433.58 497.22 434.24 498.22 434.92 499.22 435.62 500.22 436.34 501.23 437.09 502.23 437.85 503.23 438.64 504.23 439.45 505.23 440.28 506.23 441.13 507.23 442 508.23 442.88 509.24 443.79 510.24 444.72 511.24 445.66 512.24 446.62 513.24 447.61 514.24 448.61 515.24 449.65 516.24 450.7 517.25 451.79 518.25 452.91 519.25 454.05 520.25 455.23 521.25 456.44 522.25 457.68 523.25 458.94 524.26 460.24 525.26 461.55 526.26 462.89 527.26 464.23 528.26 465.6 529.26 466.97 530.26 468.34 531.26 469.71 532.27 471.08 533.27 472.44 534.27 473.79 535.27 475.12 536.27 476.41 537.27 477.68 538.27 478.9 539.27 480.08 540.28 481.2 541.28 482.26 542.28 483.25 543.28 484.18 544.28 485.03 545.28 485.82 546.28 486.53 547.28 487.17 548.29 487.72 549.29 488.17 550.29 488.49 551.29 488.65 552.29 488.59 553.29 488.26 554.29 487.67 555.29 486.85 556.3 485.93 557.3 485.09 558.3 484.53 559.3 484.4" fill="none" stroke="#6aab2b" stroke-width="1.7" stroke-linejoin="round" stroke-linecap="butt"/>
<path d="M559.3 484.4 560.3 484.38 561.3 484.67 562.3 485.21 563.31 485.91 564.31 486.67 565.31 487.38 566.31 487.96 567.31 488.38 568.31 488.59 569.31 488.61 570.31 488.44 571.32 488.11 572.32 487.65 573.32 487.07 574.32 486.4 575.32 485.64 576.32 484.81 577.32 483.92 578.32 482.96 579.33 481.94 580.33 480.86 581.33 479.73 582.33 478.54 583.33 477.31 584.33 476.02 585.33 474.7 586.33 473.33 587.34 471.93 588.34 470.5 589.34 469.05 590.34 467.57 591.34 466.08 592.34 464.59 593.34 463.09 594.34 461.6 595.35 460.11 596.35 458.64 597.35 457.19 598.35 455.77 599.35 454.37 600.35 453 601.35 451.66 602.36 450.36 603.36 449.09 604.36 447.86 605.36 446.67 606.36 445.53 607.36 444.42 608.36 443.35 609.36 442.32 610.37 441.33 611.37 440.37 612.37 439.45 613.37 438.56 614.37 437.71 615.37 436.89 616.37 436.11 617.37 435.35 618.38 434.62 619.38 433.92 620.38 433.25 621.38 432.61 622.38 432 623.38 431.41 624.38 430.84 625.38 430.31 626.39 429.79 627.39 429.3 628.39 428.84 629.39 428.39 630.39 427.97 631.39 427.56 632.39 427.17 633.39 426.8 634.4 426.45 635.4 426.12 636.4 425.8 637.4 425.49" fill="none" stroke="#6aab2b" stroke-width="1.7" stroke-linejoin="round" stroke-linecap="butt"/>
<g fill="#7f2b93"><circle cx="481.2" cy="581.2" r="2.15"/><circle cx="520.3" cy="585.24" r="2.15"/><circle cx="539.85" cy="594.19" r="2.15"/><circle cx="549.62" cy="622.18" r="2.15"/><circle cx="554.51" cy="642.67" r="2.15"/><circle cx="559.4" cy="666.34" r="2.15"/><circle cx="564.29" cy="652.77" r="2.15"/><circle cx="569.17" cy="633.73" r="2.15"/><circle cx="578.95" cy="616.99" r="2.15"/><circle cx="598.5" cy="597.65" r="2.15"/><circle cx="637.6" cy="592.46" r="2.15"/></g>
<path d="M520.3 607.46V635.17M518.6 607.46H522M518.6 635.17H522" stroke="#6aab2b" stroke-width="0.9" stroke-opacity="0.42" fill="none"/>
<path d="M539.85 649.02V660.57M538.15 649.02H541.55M538.15 660.57H541.55" stroke="#6aab2b" stroke-width="0.9" stroke-opacity="0.42" fill="none"/>
<path d="M549.62 653.93V660.85M547.92 653.93H551.33M547.92 660.85H551.33" stroke="#6aab2b" stroke-width="0.9" stroke-opacity="0.42" fill="none"/>
<path d="M554.51 663.45V667.49M552.81 663.45H556.21M552.81 667.49H556.21" stroke="#6aab2b" stroke-width="0.9" stroke-opacity="0.42" fill="none"/>
<path d="M564.29 659.41V664.03M562.59 659.41H565.99M562.59 664.03H565.99" stroke="#6aab2b" stroke-width="0.9" stroke-opacity="0.42" fill="none"/>
<path d="M569.17 649.6V659.41M567.47 649.6H570.88M567.47 659.41H570.88" stroke="#6aab2b" stroke-width="0.9" stroke-opacity="0.42" fill="none"/>
<path d="M578.95 644.98V661.72M577.25 644.98H580.65M577.25 661.72H580.65" stroke="#6aab2b" stroke-width="0.9" stroke-opacity="0.42" fill="none"/>
<path d="M598.5 613.24V648.44M596.8 613.24H600.2M596.8 648.44H600.2" stroke="#6aab2b" stroke-width="0.9" stroke-opacity="0.42" fill="none"/>
<g fill="#6aab2b"><circle cx="520.3" cy="621.32" r="2.15"/><circle cx="539.85" cy="654.79" r="2.15"/><circle cx="549.62" cy="657.39" r="2.15"/><circle cx="554.51" cy="665.47" r="2.15"/><circle cx="559.4" cy="672.11" r="2.15"/><circle cx="564.29" cy="661.72" r="2.15"/><circle cx="569.17" cy="654.51" r="2.15"/><circle cx="578.95" cy="653.35" r="2.15"/><circle cx="598.5" cy="630.84" r="2.15"/></g>
<path d="M481.2 576.19 482.2 576.19 483.2 576.19 484.2 576.19 485.2 576.19 486.2 576.19 487.2 576.2 488.2 576.2 489.2 576.21 490.2 576.23 491.2 576.24 492.2 576.26 493.2 576.29 494.2 576.32 495.2 576.35 496.2 576.39 497.2 576.44 498.2 576.49 499.2 576.55 500.2 576.62 501.2 576.7 502.2 576.79 503.2 576.89 504.2 577 505.2 577.12 506.2 577.26 507.2 577.42 508.2 577.59 509.2 577.78 510.2 577.99 511.2 578.22 512.2 578.48 513.2 578.77 514.2 579.08 515.2 579.42 516.2 579.8 517.2 580.21 518.2 580.66 519.2 581.15 520.2 581.68 521.2 582.27 522.2 582.9 523.2 583.59 524.2 584.35 525.2 585.16 526.2 586.04 527.2 587 528.2 588.03 529.2 589.14 530.2 590.32 531.2 591.58 532.2 592.92 533.2 594.34 534.2 595.84 535.2 597.41 536.2 599.05 537.2 600.76 538.2 602.55 539.2 604.39 540.2 606.3 541.2 608.27 542.2 610.3 543.2 612.38 544.2 614.51 545.2 616.69 546.2 618.91 547.2 621.17 548.2 623.45 549.2 625.74 550.2 628.04 551.2 630.32 552.2 632.56 553.2 634.75 554.2 636.85 555.2 638.84 556.2 640.7" fill="none" stroke="#7f2b93" stroke-width="1.7" stroke-linejoin="round" stroke-linecap="butt"/>
<path d="M559.3 652.5 560.3 650.83 561.3 649.05 562.3 647.16 563.31 645.19 564.31 643.15 565.31 641.04 566.31 638.89 567.31 636.7 568.31 634.49 569.31 632.27 570.31 630.04 571.32 627.81 572.32 625.58 573.32 623.36 574.32 621.14 575.32 618.94 576.32 616.75 577.32 614.58 578.32 612.44 579.33 610.34 580.33 608.28 581.33 606.27 582.33 604.33 583.33 602.45 584.33 600.66 585.33 598.96 586.33 597.34 587.34 595.83 588.34 594.41 589.34 593.1 590.34 591.89 591.34 590.78 592.34 589.77 593.34 588.86 594.34 588.04 595.35 587.3 596.35 586.64 597.35 586.05 598.35 585.53 599.35 585.07 600.35 584.66 601.35 584.31 602.36 583.99 603.36 583.71 604.36 583.47 605.36 583.26 606.36 583.07 607.36 582.91 608.36 582.76 609.36 582.63 610.37 582.52 611.37 582.42 612.37 582.33 613.37 582.25 614.37 582.18 615.37 582.12 616.37 582.06 617.37 582.02 618.38 581.98 619.38 581.94 620.38 581.91 621.38 581.89 622.38 581.87 623.38 581.85 624.38 581.84 625.38 581.82 626.39 581.81 627.39 581.81 628.39 581.8 629.39 581.79 630.39 581.79 631.39 581.79 632.39 581.79 633.39 581.79 634.4 581.79 635.4 581.79 636.4 581.79 637.4 581.79" fill="none" stroke="#7f2b93" stroke-width="1.7" stroke-linejoin="round" stroke-linecap="butt"/>
<path d="M481.2 584.93 482.21 585.33 483.22 585.74 484.23 586.17 485.24 586.61 486.25 587.07 487.26 587.54 488.27 588.03 489.28 588.54 490.29 589.07 491.29 589.61 492.3 590.17 493.31 590.75 494.32 591.35 495.33 591.98 496.34 592.63 497.35 593.3 498.36 594 499.37 594.73 500.38 595.49 501.39 596.28 502.4 597.1 503.41 597.96 504.42 598.85 505.43 599.77 506.44 600.74 507.45 601.74 508.46 602.78 509.46 603.87 510.47 605 511.48 606.17 512.49 607.39 513.5 608.66 514.51 609.97 515.52 611.33 516.53 612.73 517.54 614.18 518.55 615.67 519.56 617.21 520.57 618.79 521.58 620.42 522.59 622.08 523.6 623.79 524.61 625.54 525.62 627.32 526.63 629.13 527.64 630.96 528.64 632.81 529.65 634.66 530.66 636.5 531.67 638.32 532.68 640.1 533.69 641.83 534.7 643.48 535.71 645.05 536.72 646.51 537.73 647.86 538.74 649.08 539.75 650.16 540.76 651.11 541.77 651.92 542.78 652.59 543.79 653.13 544.8 653.52 545.81 653.78 546.81 653.9 547.82 653.88 548.83 653.74 549.84 653.47 550.85 653.09 551.86 652.63 552.87 652.09 553.88 651.53 554.89 650.98 555.9 650.49" fill="none" stroke="#6aab2b" stroke-width="1.7" stroke-linejoin="round" stroke-linecap="butt"/>
<path d="M559.3 652.51 560.3 652.76 561.3 653.57 562.3 654.78 563.31 656.15 564.31 657.48 565.31 658.6 566.31 659.44 567.31 659.97 568.31 660.23 569.31 660.28 570.31 660.17 571.32 659.94 572.32 659.62 573.32 659.22 574.32 658.75 575.32 658.2 576.32 657.57 577.32 656.86 578.32 656.06 579.33 655.16 580.33 654.17 581.33 653.09 582.33 651.91 583.33 650.65 584.33 649.3 585.33 647.87 586.33 646.37 587.34 644.81 588.34 643.2 589.34 641.54 590.34 639.86 591.34 638.16 592.34 636.45 593.34 634.73 594.34 633.02 595.35 631.32 596.35 629.64 597.35 627.98 598.35 626.35 599.35 624.75 600.35 623.18 601.35 621.64 602.36 620.14 603.36 618.67 604.36 617.24 605.36 615.85 606.36 614.5 607.36 613.18 608.36 611.9 609.36 610.66 610.37 609.46 611.37 608.31 612.37 607.19 613.37 606.12 614.37 605.08 615.37 604.09 616.37 603.14 617.37 602.23 618.38 601.36 619.38 600.52 620.38 599.72 621.38 598.95 622.38 598.22 623.38 597.51 624.38 596.84 625.38 596.19 626.39 595.57 627.39 594.98 628.39 594.41 629.39 593.87 630.39 593.35 631.39 592.85 632.39 592.38 633.39 591.92 634.4 591.48 635.4 591.07 636.4 590.67 637.4 590.28" fill="none" stroke="#6aab2b" stroke-width="1.7" stroke-linejoin="round" stroke-linecap="butt"/>
<g fill="#7f2b93"><circle cx="481.2" cy="758.43" r="2.15"/><circle cx="520.3" cy="760.45" r="2.15"/><circle cx="539.85" cy="764.9" r="2.15"/><circle cx="549.62" cy="778.85" r="2.15"/><circle cx="554.51" cy="789.06" r="2.15"/><circle cx="559.4" cy="800.85" r="2.15"/><circle cx="564.29" cy="794.1" r="2.15"/><circle cx="569.17" cy="784.6" r="2.15"/><circle cx="578.95" cy="776.26" r="2.15"/><circle cx="598.5" cy="766.63" r="2.15"/><circle cx="637.6" cy="764.04" r="2.15"/></g>
<path d="M520.3 771.52V785.32M518.6 771.52H522M518.6 785.32H522" stroke="#6aab2b" stroke-width="0.9" stroke-opacity="0.42" fill="none"/>
<path d="M539.85 792.23V797.98M538.15 792.23H541.55M538.15 797.98H541.55" stroke="#6aab2b" stroke-width="0.9" stroke-opacity="0.42" fill="none"/>
<path d="M549.62 794.67V798.12M547.92 794.67H551.33M547.92 798.12H551.33" stroke="#6aab2b" stroke-width="0.9" stroke-opacity="0.42" fill="none"/>
<path d="M554.51 799.42V801.43M552.81 799.42H556.21M552.81 801.43H556.21" stroke="#6aab2b" stroke-width="0.9" stroke-opacity="0.42" fill="none"/>
<path d="M564.29 797.4V799.7M562.59 797.4H565.99M562.59 799.7H565.99" stroke="#6aab2b" stroke-width="0.9" stroke-opacity="0.42" fill="none"/>
<path d="M569.17 792.51V797.4M567.47 792.51H570.88M567.47 797.4H570.88" stroke="#6aab2b" stroke-width="0.9" stroke-opacity="0.42" fill="none"/>
<path d="M578.95 790.21V798.55M577.25 790.21H580.65M577.25 798.55H580.65" stroke="#6aab2b" stroke-width="0.9" stroke-opacity="0.42" fill="none"/>
<path d="M598.5 774.39V791.94M596.8 774.39H600.2M596.8 791.94H600.2" stroke="#6aab2b" stroke-width="0.9" stroke-opacity="0.42" fill="none"/>
<g fill="#6aab2b"><circle cx="520.3" cy="778.42" r="2.15"/><circle cx="539.85" cy="795.1" r="2.15"/><circle cx="549.62" cy="796.4" r="2.15"/><circle cx="554.51" cy="800.42" r="2.15"/><circle cx="559.4" cy="803.73" r="2.15"/><circle cx="564.29" cy="798.55" r="2.15"/><circle cx="569.17" cy="794.96" r="2.15"/><circle cx="578.95" cy="794.38" r="2.15"/><circle cx="598.5" cy="783.17" r="2.15"/></g>
<path d="M481.3 759.41 482.3 759.43 483.31 759.46 484.31 759.49 485.31 759.52 486.31 759.55 487.32 759.58 488.32 759.61 489.32 759.65 490.32 759.68 491.33 759.72 492.33 759.76 493.33 759.8 494.34 759.84 495.34 759.88 496.34 759.92 497.34 759.97 498.35 760.01 499.35 760.06 500.35 760.11 501.35 760.17 502.36 760.23 503.36 760.29 504.36 760.35 505.36 760.42 506.37 760.49 507.37 760.57 508.37 760.66 509.38 760.75 510.38 760.84 511.38 760.94 512.38 761.06 513.39 761.18 514.39 761.31 515.39 761.45 516.39 761.6 517.4 761.77 518.4 761.96 519.4 762.17 520.41 762.39 521.41 762.63 522.41 762.9 523.41 763.2 524.42 763.52 525.42 763.86 526.42 764.24 527.42 764.64 528.43 765.07 529.43 765.54 530.43 766.03 531.44 766.56 532.44 767.12 533.44 767.72 534.44 768.36 535.45 769.03 536.45 769.74 537.45 770.49 538.45 771.28 539.46 772.11 540.46 772.98 541.46 773.88 542.46 774.82 543.47 775.8 544.47 776.82 545.47 777.89 546.48 779 547.48 780.16 548.48 781.39 549.48 782.67 550.49 784.01 551.49 785.39 552.49 786.8 553.49 788.2 554.5 789.55 555.5 790.8" fill="none" stroke="#7f2b93" stroke-width="1.7" stroke-linejoin="round" stroke-linecap="butt"/>
<path d="M559.4 796.8 560.4 795.17 561.4 793.62 562.4 792.2 563.4 790.81 564.4 789.45 565.4 788.12 566.4 786.82 567.4 785.55 568.4 784.31 569.4 783.1 570.4 781.92 571.4 780.78 572.4 779.67 573.4 778.6 574.4 777.57 575.4 776.57 576.4 775.62 577.4 774.7 578.4 773.82 579.4 772.98 580.4 772.19 581.4 771.43 582.4 770.71 583.4 770.03 584.4 769.38 585.4 768.76 586.4 768.17 587.4 767.61 588.4 767.08 589.4 766.58 590.4 766.11 591.4 765.66 592.4 765.23 593.4 764.84 594.4 764.46 595.4 764.12 596.4 763.79 597.4 763.49 598.4 763.21 599.4 762.95 600.4 762.71 601.4 762.49 602.4 762.29 603.4 762.1 604.4 761.92 605.4 761.76 606.4 761.61 607.4 761.48 608.4 761.35 609.4 761.23 610.4 761.12 611.4 761.02 612.4 760.93 613.4 760.85 614.4 760.77 615.4 760.69 616.4 760.63 617.4 760.57 618.4 760.51 619.4 760.46 620.4 760.41 621.4 760.36 622.4 760.32 623.4 760.29 624.4 760.25 625.4 760.22 626.4 760.19 627.4 760.17 628.4 760.14 629.4 760.12 630.4 760.1 631.4 760.08 632.4 760.06 633.4 760.05 634.4 760.04 635.4 760.02 636.4 760.01 637.4 760" fill="none" stroke="#7f2b93" stroke-width="1.7" stroke-linejoin="round" stroke-linecap="butt"/>
<path d="M481.3 887.72 482.3 887.3 483.31 886.86 484.31 886.42 485.31 885.96 486.31 885.5 487.32 885.02 488.32 884.53 489.32 884.02 490.32 883.51 491.33 882.98 492.33 882.43 493.33 881.87 494.34 881.3 495.34 880.71 496.34 880.11 497.34 879.49 498.35 878.87 499.35 878.23 500.35 877.57 501.35 876.91 502.36 876.23 503.36 875.53 504.36 874.83 505.36 874.1 506.37 873.37 507.37 872.61 508.37 871.84 509.38 871.05 510.38 870.24 511.38 869.41 512.38 868.55 513.39 867.68 514.39 866.77 515.39 865.85 516.39 864.9 517.4 863.92 518.4 862.91 519.4 861.88 520.41 860.83 521.41 859.74 522.41 858.63 523.41 857.48 524.42 856.3 525.42 855.09 526.42 853.84 527.42 852.55 528.43 851.22 529.43 849.85 530.43 848.44 531.44 846.98 532.44 845.47 533.44 843.91 534.44 842.31 535.45 840.65 536.45 838.95 537.45 837.2 538.45 835.4 539.46 833.55 540.46 831.67 541.46 829.74 542.46 827.78 543.47 825.79 544.47 823.77 545.47 821.73 546.48 819.68 547.48 817.63 548.48 815.57 549.48 813.53 550.49 811.49 551.49 809.48 552.49 807.5 553.49 805.56 554.5 803.66 555.5 801.81" fill="none" stroke="#6aab2b" stroke-width="1.7" stroke-linejoin="round" stroke-linecap="butt"/>
<path d="M559.4 798.1 560.4 799.05 561.4 800.13 562.4 801.68 563.4 803.35 564.4 805.07 565.4 806.81 566.4 808.57 567.4 810.36 568.4 812.16 569.4 813.97 570.4 815.8 571.4 817.63 572.4 819.46 573.4 821.29 574.4 823.12 575.4 824.93 576.4 826.74 577.4 828.54 578.4 830.31 579.4 832.07 580.4 833.81 581.4 835.53 582.4 837.22 583.4 838.89 584.4 840.54 585.4 842.15 586.4 843.74 587.4 845.31 588.4 846.84 589.4 848.35 590.4 849.83 591.4 851.28 592.4 852.69 593.4 854.08 594.4 855.44 595.4 856.76 596.4 858.05 597.4 859.31 598.4 860.54 599.4 861.74 600.4 862.91 601.4 864.05 602.4 865.15 603.4 866.23 604.4 867.28 605.4 868.3 606.4 869.29 607.4 870.26 608.4 871.2 609.4 872.11 610.4 873 611.4 873.86 612.4 874.7 613.4 875.51 614.4 876.3 615.4 877.06 616.4 877.81 617.4 878.53 618.4 879.23 619.4 879.91 620.4 880.57 621.4 881.22 622.4 881.84 623.4 882.45 624.4 883.05 625.4 883.62 626.4 884.19 627.4 884.74 628.4 885.28 629.4 885.8 630.4 886.32 631.4 886.82 632.4 887.31 633.4 887.78 634.4 888.25 635.4 888.7 636.4 889.14 637.4 889.57" fill="none" stroke="#6aab2b" stroke-width="1.7" stroke-linejoin="round" stroke-linecap="butt"/>
<g fill="#7f2b93"><circle cx="481.2" cy="952.39" r="2.15"/><circle cx="520.3" cy="956.42" r="2.15"/><circle cx="539.85" cy="965.36" r="2.15"/><circle cx="549.62" cy="993.31" r="2.15"/><circle cx="554.51" cy="1013.77" r="2.15"/><circle cx="559.4" cy="1037.41" r="2.15"/><circle cx="564.29" cy="1023.86" r="2.15"/><circle cx="569.17" cy="1004.84" r="2.15"/><circle cx="578.95" cy="988.12" r="2.15"/><circle cx="598.5" cy="968.81" r="2.15"/><circle cx="637.6" cy="963.63" r="2.15"/></g>
<path d="M520.3 978.61V1006.28M518.6 978.61H522M518.6 1006.28H522" stroke="#6aab2b" stroke-width="0.9" stroke-opacity="0.42" fill="none"/>
<path d="M539.85 1020.11V1031.64M538.15 1020.11H541.55M538.15 1031.64H541.55" stroke="#6aab2b" stroke-width="0.9" stroke-opacity="0.42" fill="none"/>
<path d="M549.62 1025.01V1031.93M547.92 1025.01H551.33M547.92 1031.93H551.33" stroke="#6aab2b" stroke-width="0.9" stroke-opacity="0.42" fill="none"/>
<path d="M554.51 1034.52V1038.56M552.81 1034.52H556.21M552.81 1038.56H556.21" stroke="#6aab2b" stroke-width="0.9" stroke-opacity="0.42" fill="none"/>
<path d="M564.29 1030.49V1035.1M562.59 1030.49H565.99M562.59 1035.1H565.99" stroke="#6aab2b" stroke-width="0.9" stroke-opacity="0.42" fill="none"/>
<path d="M569.17 1020.69V1030.49M567.47 1020.69H570.88M567.47 1030.49H570.88" stroke="#6aab2b" stroke-width="0.9" stroke-opacity="0.42" fill="none"/>
<path d="M578.95 1016.08V1032.79M577.25 1016.08H580.65M577.25 1032.79H580.65" stroke="#6aab2b" stroke-width="0.9" stroke-opacity="0.42" fill="none"/>
<path d="M598.5 984.38V1019.54M596.8 984.38H600.2M596.8 1019.54H600.2" stroke="#6aab2b" stroke-width="0.9" stroke-opacity="0.42" fill="none"/>
<g fill="#6aab2b"><circle cx="520.3" cy="992.45" r="2.15"/><circle cx="539.85" cy="1025.88" r="2.15"/><circle cx="549.62" cy="1028.47" r="2.15"/><circle cx="554.51" cy="1036.54" r="2.15"/><circle cx="559.4" cy="1043.17" r="2.15"/><circle cx="564.29" cy="1032.79" r="2.15"/><circle cx="569.17" cy="1025.59" r="2.15"/><circle cx="578.95" cy="1024.44" r="2.15"/><circle cx="598.5" cy="1001.96" r="2.15"/></g>
<path d="M481.2 951.05 482.21 951.04 483.22 951.03 484.23 951.02 485.24 951.03 486.25 951.04 487.26 951.06 488.27 951.09 489.28 951.12 490.29 951.17 491.29 951.24 492.3 951.31 493.31 951.4 494.32 951.51 495.33 951.63 496.34 951.76 497.35 951.91 498.36 952.08 499.37 952.26 500.38 952.46 501.39 952.67 502.4 952.91 503.41 953.16 504.42 953.43 505.43 953.71 506.44 954.02 507.45 954.34 508.46 954.69 509.46 955.05 510.47 955.43 511.48 955.83 512.49 956.25 513.5 956.7 514.51 957.17 515.52 957.68 516.53 958.21 517.54 958.77 518.55 959.38 519.56 960.01 520.57 960.69 521.58 961.41 522.59 962.18 523.6 962.99 524.61 963.85 525.62 964.77 526.63 965.73 527.64 966.75 528.64 967.82 529.65 968.94 530.66 970.12 531.67 971.35 532.68 972.63 533.69 973.96 534.7 975.34 535.71 976.76 536.72 978.22 537.73 979.71 538.74 981.23 539.75 982.78 540.76 984.35 541.77 985.93 542.78 987.52 543.79 989.11 544.8 990.69 545.81 992.25 546.81 993.79 547.82 995.29 548.83 996.75 549.84 998.16 550.85 999.51 551.86 1000.78 552.87 1001.99 553.88 1003.11 554.89 1004.14 555.9 1005.07" fill="none" stroke="#7f2b93" stroke-width="1.7" stroke-linejoin="round" stroke-linecap="butt"/>
<path d="M559.3 1023.7 560.3 1023.26 561.3 1022.36 562.3 1021.07 563.31 1019.49 564.31 1017.75 565.31 1015.96 566.31 1014.21 567.31 1012.57 568.31 1011.05 569.31 1009.66 570.31 1008.38 571.32 1007.17 572.32 1006 573.32 1004.83 574.32 1003.65 575.32 1002.43 576.32 1001.16 577.32 999.85 578.32 998.49 579.33 997.1 580.33 995.69 581.33 994.26 582.33 992.84 583.33 991.42 584.33 990.02 585.33 988.65 586.33 987.32 587.34 986.04 588.34 984.81 589.34 983.63 590.34 982.5 591.34 981.43 592.34 980.42 593.34 979.47 594.34 978.58 595.35 977.74 596.35 976.95 597.35 976.21 598.35 975.53 599.35 974.88 600.35 974.29 601.35 973.73 602.36 973.21 603.36 972.72 604.36 972.27 605.36 971.85 606.36 971.46 607.36 971.09 608.36 970.75 609.36 970.43 610.37 970.14 611.37 969.86 612.37 969.61 613.37 969.37 614.37 969.15 615.37 968.94 616.37 968.75 617.37 968.57 618.38 968.41 619.38 968.25 620.38 968.11 621.38 967.98 622.38 967.86 623.38 967.75 624.38 967.65 625.38 967.56 626.39 967.48 627.39 967.4 628.39 967.34 629.39 967.28 630.39 967.22 631.39 967.17 632.39 967.13 633.39 967.09 634.4 967.06 635.4 967.03 636.4 967.01 637.4 966.98" fill="none" stroke="#7f2b93" stroke-width="1.7" stroke-linejoin="round" stroke-linecap="butt"/>
<path d="M481.2 1013.73 482.21 1013.7 483.22 1013.67 484.23 1013.63 485.24 1013.61 486.25 1013.58 487.26 1013.56 488.27 1013.55 489.28 1013.54 490.29 1013.55 491.29 1013.56 492.3 1013.59 493.31 1013.63 494.32 1013.68 495.33 1013.75 496.34 1013.83 497.35 1013.92 498.36 1014.03 499.37 1014.16 500.38 1014.31 501.39 1014.48 502.4 1014.67 503.41 1014.88 504.42 1015.12 505.43 1015.37 506.44 1015.65 507.45 1015.95 508.46 1016.27 509.46 1016.6 510.47 1016.95 511.48 1017.31 512.49 1017.68 513.5 1018.05 514.51 1018.43 515.52 1018.8 516.53 1019.17 517.54 1019.54 518.55 1019.89 519.56 1020.24 520.57 1020.57 521.58 1020.9 522.59 1021.21 523.6 1021.5 524.61 1021.78 525.62 1022.04 526.63 1022.28 527.64 1022.51 528.64 1022.72 529.65 1022.91 530.66 1023.08 531.67 1023.23 532.68 1023.36 533.69 1023.47 534.7 1023.55 535.71 1023.59 536.72 1023.61 537.73 1023.58 538.74 1023.5 539.75 1023.38 540.76 1023.19 541.77 1022.93 542.78 1022.6 543.79 1022.19 544.8 1021.69 545.81 1021.1 546.81 1020.42 547.82 1019.64 548.83 1018.8 549.84 1017.89 550.85 1016.94 551.86 1015.98 552.87 1015.03 553.88 1014.14 554.89 1013.34 555.9 1012.66" fill="none" stroke="#6aab2b" stroke-width="1.7" stroke-linejoin="round" stroke-linecap="butt"/>
<path d="M559.3 1024.44 560.3 1024.65 561.3 1025.22 562.3 1026.12 563.31 1027.28 564.31 1028.61 565.31 1030.03 566.31 1031.46 567.31 1032.83 568.31 1034.08 569.31 1035.18 570.31 1036.11 571.32 1036.88 572.32 1037.49 573.32 1037.97 574.32 1038.34 575.32 1038.63 576.32 1038.85 577.32 1039.02 578.32 1039.14 579.33 1039.24 580.33 1039.32 581.33 1039.37 582.33 1039.4 583.33 1039.41 584.33 1039.4 585.33 1039.37 586.33 1039.32 587.34 1039.25 588.34 1039.16 589.34 1039.04 590.34 1038.88 591.34 1038.69 592.34 1038.46 593.34 1038.18 594.34 1037.85 595.35 1037.48 596.35 1037.08 597.35 1036.65 598.35 1036.21 599.35 1035.76 600.35 1035.33 601.35 1034.9 602.36 1034.5 603.36 1034.11 604.36 1033.75 605.36 1033.41 606.36 1033.09 607.36 1032.79 608.36 1032.5 609.36 1032.24 610.37 1031.98 611.37 1031.74 612.37 1031.51 613.37 1031.29 614.37 1031.08 615.37 1030.89 616.37 1030.71 617.37 1030.54 618.38 1030.38 619.38 1030.24 620.38 1030.11 621.38 1030 622.38 1029.9 623.38 1029.82 624.38 1029.75 625.38 1029.69 626.39 1029.64 627.39 1029.6 628.39 1029.56 629.39 1029.54 630.39 1029.52 631.39 1029.52 632.39 1029.51 633.39 1029.51 634.4 1029.52 635.4 1029.53 636.4 1029.54 637.4 1029.56" fill="none" stroke="#6aab2b" stroke-width="1.7" stroke-linejoin="round" stroke-linecap="butt"/>
<path d="M51.4 25.7V34.4M49.7 25.7H53.1M49.7 34.4H53.1" stroke="#ff0000" stroke-width="0.9" stroke-opacity="0.5" fill="none"/>
<circle cx="51.4" cy="30.2" r="1.8" fill="#ff0000"/>
<path d="M51.4 40.4V49.4M49.7 40.4H53.1M49.7 49.4H53.1" stroke="#0000ff" stroke-width="0.9" stroke-opacity="0.5" fill="none"/>
<circle cx="51.4" cy="44.9" r="1.8" fill="#0000ff"/>
<text x="58.16" y="32.7" font-size="9.3" text-anchor="start" font-weight="normal" textLength="38.03" lengthAdjust="spacingAndGlyphs">High bet</text>
<text x="58.18" y="47.7" font-size="9.3" text-anchor="start" font-weight="normal" textLength="34.9" lengthAdjust="spacingAndGlyphs">Low bet</text>
<path d="M493.3 137.4V146.2M491.6 137.4H495M491.6 146.2H495" stroke="#7f2b93" stroke-width="0.9" stroke-opacity="0.5" fill="none"/>
<circle cx="493.3" cy="141.8" r="1.8" fill="#7f2b93"/>
<path d="M493.3 149.1V157.6M491.6 149.1H495M491.6 157.6H495" stroke="#6aab2b" stroke-width="0.9" stroke-opacity="0.5" fill="none"/>
<circle cx="493.3" cy="153.2" r="1.8" fill="#6aab2b"/>
<text x="499.7" y="144.6" font-size="9.3" text-anchor="start" font-weight="normal" textLength="33.09" lengthAdjust="spacingAndGlyphs">Correct</text>
<text x="499.25" y="156.2" font-size="9.3" text-anchor="start" font-weight="normal" textLength="40.24" lengthAdjust="spacingAndGlyphs">Incorrect</text>
<text transform="translate(9.1 553.7) rotate(-90)" font-size="12" text-anchor="middle" textLength="152.6" lengthAdjust="spacingAndGlyphs">Proportion rightward choices</text>
<text transform="translate(228.6 553.5) rotate(-90)" font-size="12" text-anchor="middle" textLength="27.3" lengthAdjust="spacingAndGlyphs">RT (s)</text>
<text transform="translate(451.0 553.4) rotate(-90)" font-size="12" text-anchor="middle" textLength="107.2" lengthAdjust="spacingAndGlyphs">Proportion high bets</text>
<text x="275.1" y="1120.0" font-size="11.6" textLength="127.0" lengthAdjust="spacingAndGlyphs">Motion strength (% Coh)</text>
<path d="M645.2 20.4H657.5V528.9H645.2M657.5 274.5H668.8M645.2 570.7H657.5V1085.2H645.2M657.5 827.5H668.8" stroke="#3c3c3c" stroke-width="1" fill="none"/>
<text transform="translate(675.8 274.0) rotate(90)" font-size="11.8" text-anchor="middle" textLength="52.2" lengthAdjust="spacingAndGlyphs">Monkey G</text>
<text transform="translate(675.8 827.6) rotate(90)" font-size="11.8" text-anchor="middle" textLength="51.9" lengthAdjust="spacingAndGlyphs">Monkey H</text>
</svg>
</body></html>
